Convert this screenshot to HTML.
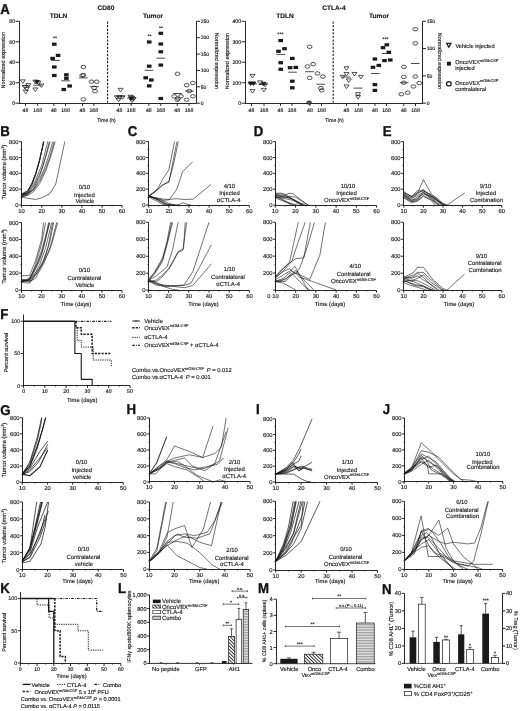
<!DOCTYPE html>
<html><head><meta charset="utf-8"><style>
html,body{margin:0;padding:0;background:#fff;}
svg{display:block;will-change:transform;}
text{font-family:"Liberation Sans", sans-serif;stroke:#1a1a1a;stroke-width:0.15px;text-rendering:geometricPrecision;}
</style></head><body>
<svg width="520" height="711" viewBox="0 0 520 711" font-family='"Liberation Sans", sans-serif'>
<rect width="520" height="711" fill="#fff"/>
<text transform="translate(0.30 13.90) scale(0.93 1)" font-size="14.2" font-weight="bold" fill="#111" style="stroke:#111;stroke-width:0.35px">A</text>
<text x="106.00" y="9.80" font-size="6.6" text-anchor="middle" font-weight="bold" fill="#1a1a1a">CD80</text>
<text x="58.50" y="18.00" font-size="6.6" text-anchor="middle" font-weight="bold" fill="#1a1a1a">TDLN</text>
<text x="153.00" y="18.30" font-size="6.6" text-anchor="middle" font-weight="bold" fill="#1a1a1a">Tumor</text>
<text x="334.00" y="9.80" font-size="6.6" text-anchor="middle" font-weight="bold" fill="#1a1a1a">CTLA-4</text>
<text x="285.00" y="18.00" font-size="6.6" text-anchor="middle" font-weight="bold" fill="#1a1a1a">TDLN</text>
<text x="379.00" y="18.30" font-size="6.6" text-anchor="middle" font-weight="bold" fill="#1a1a1a">Tumor</text>
<line x1="19.50" y1="21.30" x2="19.50" y2="103.65" stroke="#1a1a1a" stroke-width="0.95" stroke-linecap="butt"/>
<line x1="15.50" y1="103.20" x2="19.50" y2="103.20" stroke="#1a1a1a" stroke-width="0.95" stroke-linecap="butt"/>
<text x="15.10" y="105.07" font-size="5.2" text-anchor="end" fill="#1a1a1a">0</text>
<line x1="15.50" y1="82.72" x2="19.50" y2="82.72" stroke="#1a1a1a" stroke-width="0.95" stroke-linecap="butt"/>
<text x="15.10" y="84.60" font-size="5.2" text-anchor="end" fill="#1a1a1a">20</text>
<line x1="15.50" y1="62.25" x2="19.50" y2="62.25" stroke="#1a1a1a" stroke-width="0.95" stroke-linecap="butt"/>
<text x="15.10" y="64.12" font-size="5.2" text-anchor="end" fill="#1a1a1a">40</text>
<line x1="15.50" y1="41.78" x2="19.50" y2="41.78" stroke="#1a1a1a" stroke-width="0.95" stroke-linecap="butt"/>
<text x="15.10" y="43.65" font-size="5.2" text-anchor="end" fill="#1a1a1a">60</text>
<line x1="15.50" y1="21.30" x2="19.50" y2="21.30" stroke="#1a1a1a" stroke-width="0.95" stroke-linecap="butt"/>
<text x="15.10" y="23.17" font-size="5.2" text-anchor="end" fill="#1a1a1a">80</text>
<line x1="196.50" y1="21.30" x2="196.50" y2="103.65" stroke="#1a1a1a" stroke-width="0.95" stroke-linecap="butt"/>
<line x1="196.50" y1="103.20" x2="200.10" y2="103.20" stroke="#1a1a1a" stroke-width="0.95" stroke-linecap="butt"/>
<text x="200.70" y="105.00" font-size="5.0" text-anchor="start" fill="#1a1a1a">0</text>
<line x1="196.50" y1="86.82" x2="200.10" y2="86.82" stroke="#1a1a1a" stroke-width="0.95" stroke-linecap="butt"/>
<text x="200.70" y="88.62" font-size="5.0" text-anchor="start" fill="#1a1a1a">50</text>
<line x1="196.50" y1="70.44" x2="200.10" y2="70.44" stroke="#1a1a1a" stroke-width="0.95" stroke-linecap="butt"/>
<text x="200.70" y="72.24" font-size="5.0" text-anchor="start" fill="#1a1a1a">100</text>
<line x1="196.50" y1="54.06" x2="200.10" y2="54.06" stroke="#1a1a1a" stroke-width="0.95" stroke-linecap="butt"/>
<text x="200.70" y="55.86" font-size="5.0" text-anchor="start" fill="#1a1a1a">150</text>
<line x1="196.50" y1="37.68" x2="200.10" y2="37.68" stroke="#1a1a1a" stroke-width="0.95" stroke-linecap="butt"/>
<text x="200.70" y="39.48" font-size="5.0" text-anchor="start" fill="#1a1a1a">200</text>
<line x1="196.50" y1="21.30" x2="200.10" y2="21.30" stroke="#1a1a1a" stroke-width="0.95" stroke-linecap="butt"/>
<text x="200.70" y="23.10" font-size="5.0" text-anchor="start" fill="#1a1a1a">250</text>
<line x1="19.05" y1="103.50" x2="196.00" y2="103.50" stroke="#1a1a1a" stroke-width="0.95" stroke-linecap="butt"/>
<line x1="25.50" y1="103.50" x2="25.50" y2="105.90" stroke="#1a1a1a" stroke-width="0.95" stroke-linecap="butt"/>
<text x="25.50" y="112.20" font-size="5.2" text-anchor="middle" fill="#1a1a1a">48</text>
<line x1="37.70" y1="103.50" x2="37.70" y2="105.90" stroke="#1a1a1a" stroke-width="0.95" stroke-linecap="butt"/>
<text x="37.70" y="112.20" font-size="5.2" text-anchor="middle" fill="#1a1a1a">168</text>
<line x1="53.80" y1="103.50" x2="53.80" y2="105.90" stroke="#1a1a1a" stroke-width="0.95" stroke-linecap="butt"/>
<text x="53.80" y="112.20" font-size="5.2" text-anchor="middle" fill="#1a1a1a">48</text>
<line x1="65.50" y1="103.50" x2="65.50" y2="105.90" stroke="#1a1a1a" stroke-width="0.95" stroke-linecap="butt"/>
<text x="65.50" y="112.20" font-size="5.2" text-anchor="middle" fill="#1a1a1a">168</text>
<line x1="82.50" y1="103.50" x2="82.50" y2="105.90" stroke="#1a1a1a" stroke-width="0.95" stroke-linecap="butt"/>
<text x="82.50" y="112.20" font-size="5.2" text-anchor="middle" fill="#1a1a1a">48</text>
<line x1="93.80" y1="103.50" x2="93.80" y2="105.90" stroke="#1a1a1a" stroke-width="0.95" stroke-linecap="butt"/>
<text x="93.80" y="112.20" font-size="5.2" text-anchor="middle" fill="#1a1a1a">168</text>
<line x1="119.50" y1="103.50" x2="119.50" y2="105.90" stroke="#1a1a1a" stroke-width="0.95" stroke-linecap="butt"/>
<text x="119.50" y="112.20" font-size="5.2" text-anchor="middle" fill="#1a1a1a">48</text>
<line x1="131.20" y1="103.50" x2="131.20" y2="105.90" stroke="#1a1a1a" stroke-width="0.95" stroke-linecap="butt"/>
<text x="131.20" y="112.20" font-size="5.2" text-anchor="middle" fill="#1a1a1a">168</text>
<line x1="148.80" y1="103.50" x2="148.80" y2="105.90" stroke="#1a1a1a" stroke-width="0.95" stroke-linecap="butt"/>
<text x="148.80" y="112.20" font-size="5.2" text-anchor="middle" fill="#1a1a1a">48</text>
<line x1="160.80" y1="103.50" x2="160.80" y2="105.90" stroke="#1a1a1a" stroke-width="0.95" stroke-linecap="butt"/>
<text x="160.80" y="112.20" font-size="5.2" text-anchor="middle" fill="#1a1a1a">168</text>
<line x1="177.20" y1="103.50" x2="177.20" y2="105.90" stroke="#1a1a1a" stroke-width="0.95" stroke-linecap="butt"/>
<text x="177.20" y="112.20" font-size="5.2" text-anchor="middle" fill="#1a1a1a">48</text>
<line x1="189.00" y1="103.50" x2="189.00" y2="105.90" stroke="#1a1a1a" stroke-width="0.95" stroke-linecap="butt"/>
<text x="189.00" y="112.20" font-size="5.2" text-anchor="middle" fill="#1a1a1a">168</text>
<line x1="107.60" y1="21.50" x2="107.60" y2="102.50" stroke="#1a1a1a" stroke-width="1.1" stroke-dasharray="2.2,1.4" stroke-linecap="butt"/>
<text x="5.30" y="60.20" font-size="5.55" text-anchor="middle" transform="rotate(-90 5.30 60.20)" fill="#1a1a1a">Normalized expression</text>
<text x="214.60" y="61.00" font-size="5.55" text-anchor="middle" transform="rotate(90 214.60 61.00)" fill="#1a1a1a">Normalized expression</text>
<text x="106.50" y="122.30" font-size="5.0" text-anchor="middle" fill="#1a1a1a">Time (h)</text>
<line x1="245.50" y1="21.30" x2="245.50" y2="103.65" stroke="#1a1a1a" stroke-width="0.95" stroke-linecap="butt"/>
<line x1="241.50" y1="103.20" x2="245.50" y2="103.20" stroke="#1a1a1a" stroke-width="0.95" stroke-linecap="butt"/>
<text x="241.10" y="105.07" font-size="5.2" text-anchor="end" fill="#1a1a1a">0</text>
<line x1="241.50" y1="82.72" x2="245.50" y2="82.72" stroke="#1a1a1a" stroke-width="0.95" stroke-linecap="butt"/>
<text x="241.10" y="84.60" font-size="5.2" text-anchor="end" fill="#1a1a1a">100</text>
<line x1="241.50" y1="62.25" x2="245.50" y2="62.25" stroke="#1a1a1a" stroke-width="0.95" stroke-linecap="butt"/>
<text x="241.10" y="64.12" font-size="5.2" text-anchor="end" fill="#1a1a1a">200</text>
<line x1="241.50" y1="41.78" x2="245.50" y2="41.78" stroke="#1a1a1a" stroke-width="0.95" stroke-linecap="butt"/>
<text x="241.10" y="43.65" font-size="5.2" text-anchor="end" fill="#1a1a1a">300</text>
<line x1="241.50" y1="21.30" x2="245.50" y2="21.30" stroke="#1a1a1a" stroke-width="0.95" stroke-linecap="butt"/>
<text x="241.10" y="23.17" font-size="5.2" text-anchor="end" fill="#1a1a1a">400</text>
<line x1="422.50" y1="21.30" x2="422.50" y2="103.65" stroke="#1a1a1a" stroke-width="0.95" stroke-linecap="butt"/>
<line x1="422.50" y1="103.20" x2="426.10" y2="103.20" stroke="#1a1a1a" stroke-width="0.95" stroke-linecap="butt"/>
<text x="426.70" y="105.00" font-size="5.0" text-anchor="start" fill="#1a1a1a">0</text>
<line x1="422.50" y1="75.90" x2="426.10" y2="75.90" stroke="#1a1a1a" stroke-width="0.95" stroke-linecap="butt"/>
<text x="426.70" y="77.70" font-size="5.0" text-anchor="start" fill="#1a1a1a">50</text>
<line x1="422.50" y1="48.60" x2="426.10" y2="48.60" stroke="#1a1a1a" stroke-width="0.95" stroke-linecap="butt"/>
<text x="426.70" y="50.40" font-size="5.0" text-anchor="start" fill="#1a1a1a">100</text>
<line x1="422.50" y1="21.30" x2="426.10" y2="21.30" stroke="#1a1a1a" stroke-width="0.95" stroke-linecap="butt"/>
<text x="426.70" y="23.10" font-size="5.0" text-anchor="start" fill="#1a1a1a">150</text>
<line x1="245.05" y1="103.50" x2="422.50" y2="103.50" stroke="#1a1a1a" stroke-width="0.95" stroke-linecap="butt"/>
<line x1="251.50" y1="103.50" x2="251.50" y2="105.90" stroke="#1a1a1a" stroke-width="0.95" stroke-linecap="butt"/>
<text x="251.50" y="112.20" font-size="5.2" text-anchor="middle" fill="#1a1a1a">48</text>
<line x1="264.00" y1="103.50" x2="264.00" y2="105.90" stroke="#1a1a1a" stroke-width="0.95" stroke-linecap="butt"/>
<text x="264.00" y="112.20" font-size="5.2" text-anchor="middle" fill="#1a1a1a">168</text>
<line x1="280.50" y1="103.50" x2="280.50" y2="105.90" stroke="#1a1a1a" stroke-width="0.95" stroke-linecap="butt"/>
<text x="280.50" y="112.20" font-size="5.2" text-anchor="middle" fill="#1a1a1a">48</text>
<line x1="292.00" y1="103.50" x2="292.00" y2="105.90" stroke="#1a1a1a" stroke-width="0.95" stroke-linecap="butt"/>
<text x="292.00" y="112.20" font-size="5.2" text-anchor="middle" fill="#1a1a1a">168</text>
<line x1="310.00" y1="103.50" x2="310.00" y2="105.90" stroke="#1a1a1a" stroke-width="0.95" stroke-linecap="butt"/>
<text x="310.00" y="112.20" font-size="5.2" text-anchor="middle" fill="#1a1a1a">48</text>
<line x1="321.50" y1="103.50" x2="321.50" y2="105.90" stroke="#1a1a1a" stroke-width="0.95" stroke-linecap="butt"/>
<text x="321.50" y="112.20" font-size="5.2" text-anchor="middle" fill="#1a1a1a">168</text>
<line x1="346.50" y1="103.50" x2="346.50" y2="105.90" stroke="#1a1a1a" stroke-width="0.95" stroke-linecap="butt"/>
<text x="346.50" y="112.20" font-size="5.2" text-anchor="middle" fill="#1a1a1a">48</text>
<line x1="358.50" y1="103.50" x2="358.50" y2="105.90" stroke="#1a1a1a" stroke-width="0.95" stroke-linecap="butt"/>
<text x="358.50" y="112.20" font-size="5.2" text-anchor="middle" fill="#1a1a1a">168</text>
<line x1="375.00" y1="103.50" x2="375.00" y2="105.90" stroke="#1a1a1a" stroke-width="0.95" stroke-linecap="butt"/>
<text x="375.00" y="112.20" font-size="5.2" text-anchor="middle" fill="#1a1a1a">48</text>
<line x1="386.50" y1="103.50" x2="386.50" y2="105.90" stroke="#1a1a1a" stroke-width="0.95" stroke-linecap="butt"/>
<text x="386.50" y="112.20" font-size="5.2" text-anchor="middle" fill="#1a1a1a">168</text>
<line x1="403.80" y1="103.50" x2="403.80" y2="105.90" stroke="#1a1a1a" stroke-width="0.95" stroke-linecap="butt"/>
<text x="403.80" y="112.20" font-size="5.2" text-anchor="middle" fill="#1a1a1a">48</text>
<line x1="415.50" y1="103.50" x2="415.50" y2="105.90" stroke="#1a1a1a" stroke-width="0.95" stroke-linecap="butt"/>
<text x="415.50" y="112.20" font-size="5.2" text-anchor="middle" fill="#1a1a1a">168</text>
<line x1="333.20" y1="21.50" x2="333.20" y2="102.50" stroke="#1a1a1a" stroke-width="1.1" stroke-dasharray="2.2,1.4" stroke-linecap="butt"/>
<text x="229.20" y="61.00" font-size="5.55" text-anchor="middle" transform="rotate(-90 229.20 61.00)" fill="#1a1a1a">Normalized expression</text>
<text x="437.80" y="61.00" font-size="5.55" text-anchor="middle" transform="rotate(90 437.80 61.00)" fill="#1a1a1a">Normalized expression</text>
<text x="334.50" y="122.30" font-size="5.0" text-anchor="middle" fill="#1a1a1a">Time (h)</text>
<polygon points="20.30,79.85 25.30,79.85 22.80,83.40" fill="none" stroke="#1a1a1a" stroke-width="0.75" stroke-linejoin="miter"/>
<polygon points="25.90,83.65 30.90,83.65 28.40,87.20" fill="none" stroke="#1a1a1a" stroke-width="0.75" stroke-linejoin="miter"/>
<polygon points="22.40,85.35 27.40,85.35 24.90,88.90" fill="none" stroke="#1a1a1a" stroke-width="0.75" stroke-linejoin="miter"/>
<polygon points="24.20,87.45 29.20,87.45 26.70,91.00" fill="none" stroke="#1a1a1a" stroke-width="0.75" stroke-linejoin="miter"/>
<polygon points="23.30,90.15 28.30,90.15 25.80,93.70" fill="none" stroke="#1a1a1a" stroke-width="0.75" stroke-linejoin="miter"/>
<line x1="21.70" y1="85.80" x2="30.30" y2="85.80" stroke="#1a1a1a" stroke-width="0.8" stroke-linecap="butt"/>
<polygon points="32.80,80.15 37.80,80.15 35.30,83.70" fill="none" stroke="#1a1a1a" stroke-width="0.75" stroke-linejoin="miter"/>
<polygon points="35.90,81.05 40.90,81.05 38.40,84.60" fill="none" stroke="#1a1a1a" stroke-width="0.75" stroke-linejoin="miter"/>
<polygon points="38.90,83.95 43.90,83.95 41.40,87.50" fill="none" stroke="#1a1a1a" stroke-width="0.75" stroke-linejoin="miter"/>
<polygon points="32.80,87.95 37.80,87.95 35.30,91.50" fill="none" stroke="#1a1a1a" stroke-width="0.75" stroke-linejoin="miter"/>
<polygon points="34.50,80.45 39.50,80.45 37.00,84.00" fill="#1a1a1a" stroke="#1a1a1a" stroke-width="0.75" stroke-linejoin="miter"/>
<line x1="33.20" y1="85.20" x2="41.80" y2="85.20" stroke="#1a1a1a" stroke-width="0.8" stroke-linecap="butt"/>
<rect x="52.00" y="42.60" width="4.60" height="3.20" fill="#1a1a1a"/>
<rect x="55.80" y="53.80" width="4.60" height="3.20" fill="#1a1a1a"/>
<rect x="50.30" y="56.80" width="4.60" height="3.20" fill="#1a1a1a"/>
<rect x="52.00" y="65.40" width="4.60" height="3.20" fill="#1a1a1a"/>
<rect x="52.00" y="73.90" width="4.60" height="3.20" fill="#1a1a1a"/>
<line x1="51.20" y1="60.40" x2="59.80" y2="60.40" stroke="#1a1a1a" stroke-width="0.8" stroke-linecap="butt"/>
<text x="55.00" y="40.10" font-size="5.2" text-anchor="middle" fill="#1a1a1a">**</text>
<rect x="64.10" y="73.20" width="4.60" height="3.20" fill="#1a1a1a"/>
<rect x="64.10" y="76.70" width="4.60" height="3.20" fill="#1a1a1a"/>
<rect x="67.30" y="84.40" width="4.60" height="3.20" fill="#1a1a1a"/>
<rect x="61.50" y="87.90" width="4.60" height="3.20" fill="#1a1a1a"/>
<line x1="61.30" y1="80.80" x2="69.90" y2="80.80" stroke="#1a1a1a" stroke-width="0.8" stroke-linecap="butt"/>
<ellipse cx="83.40" cy="67.00" rx="2.45" ry="1.7" fill="none" stroke="#1a1a1a" stroke-width="0.75"/>
<ellipse cx="83.40" cy="75.10" rx="2.45" ry="1.7" fill="none" stroke="#1a1a1a" stroke-width="0.75"/>
<ellipse cx="82.20" cy="75.40" rx="2.45" ry="1.7" fill="none" stroke="#1a1a1a" stroke-width="0.75"/>
<ellipse cx="83.40" cy="99.40" rx="2.45" ry="1.7" fill="none" stroke="#1a1a1a" stroke-width="0.75"/>
<line x1="79.00" y1="77.90" x2="87.60" y2="77.90" stroke="#1a1a1a" stroke-width="0.8" stroke-linecap="butt"/>
<ellipse cx="91.50" cy="81.70" rx="2.45" ry="1.7" fill="none" stroke="#1a1a1a" stroke-width="0.75"/>
<ellipse cx="96.70" cy="81.70" rx="2.45" ry="1.7" fill="none" stroke="#1a1a1a" stroke-width="0.75"/>
<ellipse cx="94.10" cy="87.80" rx="2.45" ry="1.7" fill="none" stroke="#1a1a1a" stroke-width="0.75"/>
<ellipse cx="95.00" cy="91.20" rx="2.45" ry="1.7" fill="none" stroke="#1a1a1a" stroke-width="0.75"/>
<line x1="90.20" y1="86.60" x2="98.80" y2="86.60" stroke="#1a1a1a" stroke-width="0.8" stroke-linecap="butt"/>
<polygon points="118.00,88.35 123.00,88.35 120.50,91.90" fill="none" stroke="#1a1a1a" stroke-width="0.75" stroke-linejoin="miter"/>
<polygon points="114.20,95.75 119.20,95.75 116.70,99.30" fill="none" stroke="#1a1a1a" stroke-width="0.75" stroke-linejoin="miter"/>
<polygon points="117.30,95.75 122.30,95.75 119.80,99.30" fill="none" stroke="#1a1a1a" stroke-width="0.75" stroke-linejoin="miter"/>
<polygon points="120.20,95.75 125.20,95.75 122.70,99.30" fill="none" stroke="#1a1a1a" stroke-width="0.75" stroke-linejoin="miter"/>
<polygon points="116.20,98.15 121.20,98.15 118.70,101.70" fill="none" stroke="#1a1a1a" stroke-width="0.75" stroke-linejoin="miter"/>
<line x1="115.80" y1="96.30" x2="124.40" y2="96.30" stroke="#1a1a1a" stroke-width="0.8" stroke-linecap="butt"/>
<polygon points="128.00,95.25 133.00,95.25 130.50,98.80" fill="none" stroke="#1a1a1a" stroke-width="0.75" stroke-linejoin="miter"/>
<polygon points="129.70,96.15 134.70,96.15 132.20,99.70" fill="none" stroke="#1a1a1a" stroke-width="0.75" stroke-linejoin="miter"/>
<polygon points="129.40,99.05 134.40,99.05 131.90,102.60" fill="none" stroke="#1a1a1a" stroke-width="0.75" stroke-linejoin="miter"/>
<polygon points="131.10,97.45 136.10,97.45 133.60,101.00" fill="none" stroke="#1a1a1a" stroke-width="0.75" stroke-linejoin="miter"/>
<polygon points="128.70,96.95 133.70,96.95 131.20,100.50" fill="#1a1a1a" stroke="#1a1a1a" stroke-width="0.75" stroke-linejoin="miter"/>
<line x1="127.10" y1="98.00" x2="135.70" y2="98.00" stroke="#1a1a1a" stroke-width="0.8" stroke-linecap="butt"/>
<rect x="146.90" y="40.40" width="4.60" height="3.20" fill="#1a1a1a"/>
<rect x="146.90" y="64.60" width="4.60" height="3.20" fill="#1a1a1a"/>
<rect x="143.40" y="76.20" width="4.60" height="3.20" fill="#1a1a1a"/>
<rect x="149.00" y="78.40" width="4.60" height="3.20" fill="#1a1a1a"/>
<rect x="146.90" y="84.30" width="4.60" height="3.20" fill="#1a1a1a"/>
<line x1="144.70" y1="70.30" x2="153.30" y2="70.30" stroke="#1a1a1a" stroke-width="0.8" stroke-linecap="butt"/>
<text x="149.60" y="38.40" font-size="5.2" text-anchor="middle" fill="#1a1a1a">**</text>
<rect x="158.50" y="31.70" width="4.60" height="3.20" fill="#1a1a1a"/>
<rect x="158.50" y="42.40" width="4.60" height="3.20" fill="#1a1a1a"/>
<rect x="158.50" y="50.20" width="4.60" height="3.20" fill="#1a1a1a"/>
<rect x="158.50" y="63.50" width="4.60" height="3.20" fill="#1a1a1a"/>
<rect x="158.50" y="96.90" width="4.60" height="3.20" fill="#1a1a1a"/>
<line x1="156.40" y1="58.20" x2="165.00" y2="58.20" stroke="#1a1a1a" stroke-width="0.8" stroke-linecap="butt"/>
<text x="161.00" y="30.10" font-size="5.2" text-anchor="middle" fill="#1a1a1a">**</text>
<ellipse cx="177.50" cy="73.80" rx="2.45" ry="1.7" fill="none" stroke="#1a1a1a" stroke-width="0.75"/>
<ellipse cx="174.10" cy="96.30" rx="2.45" ry="1.7" fill="none" stroke="#1a1a1a" stroke-width="0.75"/>
<ellipse cx="178.10" cy="98.50" rx="2.45" ry="1.7" fill="none" stroke="#1a1a1a" stroke-width="0.75"/>
<ellipse cx="181.00" cy="96.30" rx="2.45" ry="1.7" fill="none" stroke="#1a1a1a" stroke-width="0.75"/>
<ellipse cx="177.20" cy="99.70" rx="2.45" ry="1.7" fill="none" stroke="#1a1a1a" stroke-width="0.75"/>
<line x1="173.30" y1="93.50" x2="181.90" y2="93.50" stroke="#1a1a1a" stroke-width="0.8" stroke-linecap="butt"/>
<ellipse cx="186.70" cy="85.20" rx="2.45" ry="1.7" fill="none" stroke="#1a1a1a" stroke-width="0.75"/>
<ellipse cx="192.80" cy="83.00" rx="2.45" ry="1.7" fill="none" stroke="#1a1a1a" stroke-width="0.75"/>
<ellipse cx="189.30" cy="91.10" rx="2.45" ry="1.7" fill="none" stroke="#1a1a1a" stroke-width="0.75"/>
<ellipse cx="192.80" cy="96.30" rx="2.45" ry="1.7" fill="none" stroke="#1a1a1a" stroke-width="0.75"/>
<ellipse cx="186.70" cy="99.70" rx="2.45" ry="1.7" fill="none" stroke="#1a1a1a" stroke-width="0.75"/>
<line x1="185.20" y1="91.10" x2="193.80" y2="91.10" stroke="#1a1a1a" stroke-width="0.8" stroke-linecap="butt"/>
<polygon points="250.00,74.45 255.00,74.45 252.50,78.00" fill="none" stroke="#1a1a1a" stroke-width="0.75" stroke-linejoin="miter"/>
<polygon points="250.00,89.55 255.00,89.55 252.50,93.10" fill="none" stroke="#1a1a1a" stroke-width="0.75" stroke-linejoin="miter"/>
<polygon points="248.10,81.95 253.10,81.95 250.60,85.50" fill="#1a1a1a" stroke="#1a1a1a" stroke-width="0.75" stroke-linejoin="miter"/>
<polygon points="250.90,81.95 255.90,81.95 253.40,85.50" fill="#1a1a1a" stroke="#1a1a1a" stroke-width="0.75" stroke-linejoin="miter"/>
<line x1="248.50" y1="83.80" x2="257.10" y2="83.80" stroke="#1a1a1a" stroke-width="0.8" stroke-linecap="butt"/>
<polygon points="257.50,80.85 262.50,80.85 260.00,84.40" fill="none" stroke="#1a1a1a" stroke-width="0.75" stroke-linejoin="miter"/>
<polygon points="262.60,83.15 267.60,83.15 265.10,86.70" fill="none" stroke="#1a1a1a" stroke-width="0.75" stroke-linejoin="miter"/>
<polygon points="261.30,88.35 266.30,88.35 263.80,91.90" fill="none" stroke="#1a1a1a" stroke-width="0.75" stroke-linejoin="miter"/>
<polygon points="260.90,82.25 265.90,82.25 263.40,85.80" fill="#1a1a1a" stroke="#1a1a1a" stroke-width="0.75" stroke-linejoin="miter"/>
<line x1="258.70" y1="84.50" x2="267.30" y2="84.50" stroke="#1a1a1a" stroke-width="0.8" stroke-linecap="butt"/>
<rect x="278.40" y="39.00" width="4.60" height="3.20" fill="#1a1a1a"/>
<rect x="276.20" y="49.70" width="4.60" height="3.20" fill="#1a1a1a"/>
<rect x="282.20" y="47.10" width="4.60" height="3.20" fill="#1a1a1a"/>
<rect x="278.40" y="61.10" width="4.60" height="3.20" fill="#1a1a1a"/>
<rect x="278.40" y="67.70" width="4.60" height="3.20" fill="#1a1a1a"/>
<line x1="276.60" y1="54.40" x2="285.20" y2="54.40" stroke="#1a1a1a" stroke-width="0.8" stroke-linecap="butt"/>
<text x="280.40" y="36.40" font-size="5.2" text-anchor="middle" fill="#1a1a1a">***</text>
<rect x="290.00" y="56.80" width="4.60" height="3.20" fill="#1a1a1a"/>
<rect x="287.80" y="66.10" width="4.60" height="3.20" fill="#1a1a1a"/>
<rect x="293.50" y="65.80" width="4.60" height="3.20" fill="#1a1a1a"/>
<rect x="290.00" y="79.60" width="4.60" height="3.20" fill="#1a1a1a"/>
<rect x="290.00" y="86.20" width="4.60" height="3.20" fill="#1a1a1a"/>
<line x1="288.20" y1="72.20" x2="296.80" y2="72.20" stroke="#1a1a1a" stroke-width="0.8" stroke-linecap="butt"/>
<ellipse cx="309.60" cy="46.80" rx="2.45" ry="1.7" fill="none" stroke="#1a1a1a" stroke-width="0.75"/>
<ellipse cx="307.40" cy="66.50" rx="2.45" ry="1.7" fill="none" stroke="#1a1a1a" stroke-width="0.75"/>
<ellipse cx="313.10" cy="64.10" rx="2.45" ry="1.7" fill="none" stroke="#1a1a1a" stroke-width="0.75"/>
<ellipse cx="309.60" cy="77.90" rx="2.45" ry="1.7" fill="none" stroke="#1a1a1a" stroke-width="0.75"/>
<ellipse cx="309.10" cy="102.60" rx="2.45" ry="1.7" fill="#555" stroke="#1a1a1a" stroke-width="0.75"/>
<line x1="305.30" y1="71.70" x2="313.90" y2="71.70" stroke="#1a1a1a" stroke-width="0.8" stroke-linecap="butt"/>
<ellipse cx="317.40" cy="73.40" rx="2.45" ry="1.7" fill="none" stroke="#1a1a1a" stroke-width="0.75"/>
<ellipse cx="322.90" cy="76.60" rx="2.45" ry="1.7" fill="none" stroke="#1a1a1a" stroke-width="0.75"/>
<ellipse cx="320.90" cy="88.10" rx="2.45" ry="1.7" fill="none" stroke="#1a1a1a" stroke-width="0.75"/>
<ellipse cx="321.70" cy="90.40" rx="2.45" ry="1.7" fill="none" stroke="#1a1a1a" stroke-width="0.75"/>
<line x1="316.50" y1="84.20" x2="325.10" y2="84.20" stroke="#1a1a1a" stroke-width="0.8" stroke-linecap="butt"/>
<polygon points="344.00,66.75 349.00,66.75 346.50,70.30" fill="none" stroke="#1a1a1a" stroke-width="0.75" stroke-linejoin="miter"/>
<polygon points="344.00,72.45 349.00,72.45 346.50,76.00" fill="none" stroke="#1a1a1a" stroke-width="0.75" stroke-linejoin="miter"/>
<polygon points="340.10,75.35 345.10,75.35 342.60,78.90" fill="none" stroke="#1a1a1a" stroke-width="0.75" stroke-linejoin="miter"/>
<polygon points="346.30,78.85 351.30,78.85 348.80,82.40" fill="none" stroke="#1a1a1a" stroke-width="0.75" stroke-linejoin="miter"/>
<polygon points="344.00,84.95 349.00,84.95 346.50,88.50" fill="none" stroke="#1a1a1a" stroke-width="0.75" stroke-linejoin="miter"/>
<line x1="342.00" y1="77.00" x2="350.60" y2="77.00" stroke="#1a1a1a" stroke-width="0.8" stroke-linecap="butt"/>
<polygon points="352.00,72.45 357.00,72.45 354.50,76.00" fill="none" stroke="#1a1a1a" stroke-width="0.75" stroke-linejoin="miter"/>
<polygon points="358.40,75.35 363.40,75.35 360.90,78.90" fill="none" stroke="#1a1a1a" stroke-width="0.75" stroke-linejoin="miter"/>
<polygon points="355.50,92.65 360.50,92.65 358.00,96.20" fill="none" stroke="#1a1a1a" stroke-width="0.75" stroke-linejoin="miter"/>
<polygon points="355.50,95.55 360.50,95.55 358.00,99.10" fill="none" stroke="#1a1a1a" stroke-width="0.75" stroke-linejoin="miter"/>
<line x1="353.70" y1="88.10" x2="362.30" y2="88.10" stroke="#1a1a1a" stroke-width="0.8" stroke-linecap="butt"/>
<rect x="372.60" y="57.40" width="4.60" height="3.20" fill="#1a1a1a"/>
<rect x="370.70" y="65.70" width="4.60" height="3.20" fill="#1a1a1a"/>
<rect x="376.50" y="63.80" width="4.60" height="3.20" fill="#1a1a1a"/>
<rect x="372.60" y="83.00" width="4.60" height="3.20" fill="#1a1a1a"/>
<rect x="372.60" y="88.80" width="4.60" height="3.20" fill="#1a1a1a"/>
<line x1="371.00" y1="73.50" x2="379.60" y2="73.50" stroke="#1a1a1a" stroke-width="0.8" stroke-linecap="butt"/>
<rect x="380.70" y="46.10" width="4.60" height="3.20" fill="#1a1a1a"/>
<rect x="384.50" y="43.20" width="4.60" height="3.20" fill="#1a1a1a"/>
<rect x="386.50" y="50.70" width="4.60" height="3.20" fill="#1a1a1a"/>
<rect x="382.20" y="59.00" width="4.60" height="3.20" fill="#1a1a1a"/>
<rect x="388.00" y="58.40" width="4.60" height="3.20" fill="#1a1a1a"/>
<line x1="382.00" y1="53.50" x2="390.60" y2="53.50" stroke="#1a1a1a" stroke-width="0.8" stroke-linecap="butt"/>
<text x="385.40" y="40.90" font-size="5.2" text-anchor="middle" fill="#1a1a1a">***</text>
<ellipse cx="403.80" cy="66.90" rx="2.45" ry="1.7" fill="none" stroke="#1a1a1a" stroke-width="0.75"/>
<ellipse cx="403.80" cy="76.90" rx="2.45" ry="1.7" fill="none" stroke="#1a1a1a" stroke-width="0.75"/>
<ellipse cx="403.80" cy="82.70" rx="2.45" ry="1.7" fill="none" stroke="#1a1a1a" stroke-width="0.75"/>
<ellipse cx="401.30" cy="94.20" rx="2.45" ry="1.7" fill="none" stroke="#1a1a1a" stroke-width="0.75"/>
<ellipse cx="407.60" cy="92.70" rx="2.45" ry="1.7" fill="none" stroke="#1a1a1a" stroke-width="0.75"/>
<line x1="399.90" y1="82.70" x2="408.50" y2="82.70" stroke="#1a1a1a" stroke-width="0.8" stroke-linecap="butt"/>
<ellipse cx="415.30" cy="29.20" rx="2.45" ry="1.7" fill="none" stroke="#1a1a1a" stroke-width="0.75"/>
<ellipse cx="415.30" cy="43.30" rx="2.45" ry="1.7" fill="none" stroke="#1a1a1a" stroke-width="0.75"/>
<ellipse cx="415.30" cy="76.50" rx="2.45" ry="1.7" fill="none" stroke="#1a1a1a" stroke-width="0.75"/>
<ellipse cx="419.20" cy="83.10" rx="2.45" ry="1.7" fill="none" stroke="#1a1a1a" stroke-width="0.75"/>
<ellipse cx="413.40" cy="86.50" rx="2.45" ry="1.7" fill="none" stroke="#1a1a1a" stroke-width="0.75"/>
<line x1="410.90" y1="63.50" x2="419.50" y2="63.50" stroke="#1a1a1a" stroke-width="0.8" stroke-linecap="butt"/>
<polygon points="446.70,43.30 450.90,43.30 448.80,47.20" fill="none" stroke="#1a1a1a" stroke-width="1.3" stroke-linejoin="miter"/>
<text x="455.40" y="47.90" font-size="5.65" text-anchor="start" fill="#1a1a1a">Vehicle injected</text>
<rect x="446.90" y="61.70" width="4.00" height="3.90" fill="#1a1a1a"/>
<text x="455.20" y="64.30" font-size="5.65" text-anchor="start" fill="#1a1a1a">OncoVEX<tspan font-size="3.84" dy="-2.26">mGM-CSF</tspan></text>
<text x="455.20" y="70.40" font-size="5.65" text-anchor="start" fill="#1a1a1a">injected</text>
<ellipse cx="448.85" cy="83.75" rx="2.35" ry="2.2" fill="none" stroke="#1a1a1a" stroke-width="1.25"/>
<text x="455.20" y="84.60" font-size="5.65" text-anchor="start" fill="#1a1a1a">OncoVEX<tspan font-size="3.84" dy="-2.26">mGM-CSF</tspan></text>
<text x="455.20" y="90.60" font-size="5.65" text-anchor="start" fill="#1a1a1a">contralateral</text>
<text transform="translate(0.30 135.90) scale(0.93 1)" font-size="14.2" font-weight="bold" fill="#111" style="stroke:#111;stroke-width:0.35px">B</text>
<text transform="translate(127.80 135.90) scale(0.93 1)" font-size="14.2" font-weight="bold" fill="#111" style="stroke:#111;stroke-width:0.35px">C</text>
<text transform="translate(253.80 135.90) scale(0.93 1)" font-size="14.2" font-weight="bold" fill="#111" style="stroke:#111;stroke-width:0.35px">D</text>
<text transform="translate(382.80 135.90) scale(0.93 1)" font-size="14.2" font-weight="bold" fill="#111" style="stroke:#111;stroke-width:0.35px">E</text>
<text transform="translate(0.30 318.90) scale(0.93 1)" font-size="14.2" font-weight="bold" fill="#111" style="stroke:#111;stroke-width:0.35px">F</text>
<line x1="21.50" y1="141.60" x2="21.50" y2="205.45" stroke="#1a1a1a" stroke-width="0.95" stroke-linecap="butt"/>
<line x1="19.10" y1="205.00" x2="21.50" y2="205.00" stroke="#1a1a1a" stroke-width="0.95" stroke-linecap="butt"/>
<text x="18.60" y="207.09" font-size="5.8" text-anchor="end" fill="#1a1a1a">0</text>
<line x1="19.10" y1="189.15" x2="21.50" y2="189.15" stroke="#1a1a1a" stroke-width="0.95" stroke-linecap="butt"/>
<text x="18.60" y="191.24" font-size="5.8" text-anchor="end" fill="#1a1a1a">200</text>
<line x1="19.10" y1="173.30" x2="21.50" y2="173.30" stroke="#1a1a1a" stroke-width="0.95" stroke-linecap="butt"/>
<text x="18.60" y="175.39" font-size="5.8" text-anchor="end" fill="#1a1a1a">400</text>
<line x1="19.10" y1="157.45" x2="21.50" y2="157.45" stroke="#1a1a1a" stroke-width="0.95" stroke-linecap="butt"/>
<text x="18.60" y="159.54" font-size="5.8" text-anchor="end" fill="#1a1a1a">600</text>
<line x1="19.10" y1="141.60" x2="21.50" y2="141.60" stroke="#1a1a1a" stroke-width="0.95" stroke-linecap="butt"/>
<text x="18.60" y="143.69" font-size="5.8" text-anchor="end" fill="#1a1a1a">800</text>
<line x1="20.18" y1="197.07" x2="21.50" y2="197.07" stroke="#1a1a1a" stroke-width="0.5" stroke-linecap="butt"/>
<line x1="20.18" y1="181.22" x2="21.50" y2="181.22" stroke="#1a1a1a" stroke-width="0.5" stroke-linecap="butt"/>
<line x1="20.18" y1="165.38" x2="21.50" y2="165.38" stroke="#1a1a1a" stroke-width="0.5" stroke-linecap="butt"/>
<line x1="20.18" y1="149.53" x2="21.50" y2="149.53" stroke="#1a1a1a" stroke-width="0.5" stroke-linecap="butt"/>
<line x1="21.05" y1="205.50" x2="122.10" y2="205.50" stroke="#1a1a1a" stroke-width="0.95" stroke-linecap="butt"/>
<line x1="21.60" y1="205.50" x2="21.60" y2="207.70" stroke="#1a1a1a" stroke-width="0.95" stroke-linecap="butt"/>
<text x="21.60" y="213.00" font-size="5.8" text-anchor="middle" fill="#1a1a1a">10</text>
<line x1="41.70" y1="205.50" x2="41.70" y2="207.70" stroke="#1a1a1a" stroke-width="0.95" stroke-linecap="butt"/>
<text x="41.70" y="213.00" font-size="5.8" text-anchor="middle" fill="#1a1a1a">20</text>
<line x1="61.80" y1="205.50" x2="61.80" y2="207.70" stroke="#1a1a1a" stroke-width="0.95" stroke-linecap="butt"/>
<text x="61.80" y="213.00" font-size="5.8" text-anchor="middle" fill="#1a1a1a">30</text>
<line x1="81.90" y1="205.50" x2="81.90" y2="207.70" stroke="#1a1a1a" stroke-width="0.95" stroke-linecap="butt"/>
<text x="81.90" y="213.00" font-size="5.8" text-anchor="middle" fill="#1a1a1a">40</text>
<line x1="102.00" y1="205.50" x2="102.00" y2="207.70" stroke="#1a1a1a" stroke-width="0.95" stroke-linecap="butt"/>
<text x="102.00" y="213.00" font-size="5.8" text-anchor="middle" fill="#1a1a1a">50</text>
<line x1="122.10" y1="205.50" x2="122.10" y2="207.70" stroke="#1a1a1a" stroke-width="0.95" stroke-linecap="butt"/>
<text x="122.10" y="213.00" font-size="5.8" text-anchor="middle" fill="#1a1a1a">60</text>
<line x1="31.65" y1="205.50" x2="31.65" y2="206.71" stroke="#1a1a1a" stroke-width="0.5" stroke-linecap="butt"/>
<line x1="51.75" y1="205.50" x2="51.75" y2="206.71" stroke="#1a1a1a" stroke-width="0.5" stroke-linecap="butt"/>
<line x1="71.85" y1="205.50" x2="71.85" y2="206.71" stroke="#1a1a1a" stroke-width="0.5" stroke-linecap="butt"/>
<line x1="91.95" y1="205.50" x2="91.95" y2="206.71" stroke="#1a1a1a" stroke-width="0.5" stroke-linecap="butt"/>
<line x1="112.05" y1="205.50" x2="112.05" y2="206.71" stroke="#1a1a1a" stroke-width="0.5" stroke-linecap="butt"/>
<line x1="21.50" y1="222.50" x2="21.50" y2="290.45" stroke="#1a1a1a" stroke-width="0.95" stroke-linecap="butt"/>
<line x1="19.10" y1="290.00" x2="21.50" y2="290.00" stroke="#1a1a1a" stroke-width="0.95" stroke-linecap="butt"/>
<text x="18.60" y="292.09" font-size="5.8" text-anchor="end" fill="#1a1a1a">0</text>
<line x1="19.10" y1="273.12" x2="21.50" y2="273.12" stroke="#1a1a1a" stroke-width="0.95" stroke-linecap="butt"/>
<text x="18.60" y="275.21" font-size="5.8" text-anchor="end" fill="#1a1a1a">200</text>
<line x1="19.10" y1="256.25" x2="21.50" y2="256.25" stroke="#1a1a1a" stroke-width="0.95" stroke-linecap="butt"/>
<text x="18.60" y="258.34" font-size="5.8" text-anchor="end" fill="#1a1a1a">400</text>
<line x1="19.10" y1="239.38" x2="21.50" y2="239.38" stroke="#1a1a1a" stroke-width="0.95" stroke-linecap="butt"/>
<text x="18.60" y="241.46" font-size="5.8" text-anchor="end" fill="#1a1a1a">600</text>
<line x1="19.10" y1="222.50" x2="21.50" y2="222.50" stroke="#1a1a1a" stroke-width="0.95" stroke-linecap="butt"/>
<text x="18.60" y="224.59" font-size="5.8" text-anchor="end" fill="#1a1a1a">800</text>
<line x1="20.18" y1="281.56" x2="21.50" y2="281.56" stroke="#1a1a1a" stroke-width="0.5" stroke-linecap="butt"/>
<line x1="20.18" y1="264.69" x2="21.50" y2="264.69" stroke="#1a1a1a" stroke-width="0.5" stroke-linecap="butt"/>
<line x1="20.18" y1="247.81" x2="21.50" y2="247.81" stroke="#1a1a1a" stroke-width="0.5" stroke-linecap="butt"/>
<line x1="20.18" y1="230.94" x2="21.50" y2="230.94" stroke="#1a1a1a" stroke-width="0.5" stroke-linecap="butt"/>
<line x1="21.05" y1="290.50" x2="122.00" y2="290.50" stroke="#1a1a1a" stroke-width="0.95" stroke-linecap="butt"/>
<line x1="21.50" y1="290.50" x2="21.50" y2="292.70" stroke="#1a1a1a" stroke-width="0.95" stroke-linecap="butt"/>
<text x="21.50" y="298.00" font-size="5.8" text-anchor="middle" fill="#1a1a1a">10</text>
<line x1="41.60" y1="290.50" x2="41.60" y2="292.70" stroke="#1a1a1a" stroke-width="0.95" stroke-linecap="butt"/>
<text x="41.60" y="298.00" font-size="5.8" text-anchor="middle" fill="#1a1a1a">20</text>
<line x1="61.70" y1="290.50" x2="61.70" y2="292.70" stroke="#1a1a1a" stroke-width="0.95" stroke-linecap="butt"/>
<text x="61.70" y="298.00" font-size="5.8" text-anchor="middle" fill="#1a1a1a">30</text>
<line x1="81.80" y1="290.50" x2="81.80" y2="292.70" stroke="#1a1a1a" stroke-width="0.95" stroke-linecap="butt"/>
<text x="81.80" y="298.00" font-size="5.8" text-anchor="middle" fill="#1a1a1a">40</text>
<line x1="101.90" y1="290.50" x2="101.90" y2="292.70" stroke="#1a1a1a" stroke-width="0.95" stroke-linecap="butt"/>
<text x="101.90" y="298.00" font-size="5.8" text-anchor="middle" fill="#1a1a1a">50</text>
<line x1="122.00" y1="290.50" x2="122.00" y2="292.70" stroke="#1a1a1a" stroke-width="0.95" stroke-linecap="butt"/>
<text x="122.00" y="298.00" font-size="5.8" text-anchor="middle" fill="#1a1a1a">60</text>
<line x1="31.55" y1="290.50" x2="31.55" y2="291.71" stroke="#1a1a1a" stroke-width="0.5" stroke-linecap="butt"/>
<line x1="51.65" y1="290.50" x2="51.65" y2="291.71" stroke="#1a1a1a" stroke-width="0.5" stroke-linecap="butt"/>
<line x1="71.75" y1="290.50" x2="71.75" y2="291.71" stroke="#1a1a1a" stroke-width="0.5" stroke-linecap="butt"/>
<line x1="91.85" y1="290.50" x2="91.85" y2="291.71" stroke="#1a1a1a" stroke-width="0.5" stroke-linecap="butt"/>
<line x1="111.95" y1="290.50" x2="111.95" y2="291.71" stroke="#1a1a1a" stroke-width="0.5" stroke-linecap="butt"/>
<polyline points="21.60,194.70 27.63,191.53 31.65,184.40 35.67,174.09 39.69,160.62 43.71,141.60" fill="none" stroke="#1a1a1a" stroke-width="0.8" stroke-linejoin="round"/>
<polyline points="21.60,195.49 27.63,192.32 31.65,185.19 35.67,174.88 39.69,159.83 43.51,141.60" fill="none" stroke="#1a1a1a" stroke-width="0.8" stroke-linejoin="round"/>
<polyline points="21.60,193.91 27.63,190.74 31.65,183.60 35.67,173.30 39.69,159.03 43.91,141.60" fill="none" stroke="#1a1a1a" stroke-width="0.8" stroke-linejoin="round"/>
<polyline points="21.60,196.28 27.63,193.11 31.65,187.56 35.67,179.64 41.70,165.38 46.72,145.56 47.73,141.60" fill="none" stroke="#1a1a1a" stroke-width="0.62" stroke-linejoin="round"/>
<polyline points="21.60,195.09 27.63,193.91 33.66,185.98 37.68,178.06 41.70,169.34 45.72,155.87 49.34,141.60" fill="none" stroke="#1a1a1a" stroke-width="0.62" stroke-linejoin="round"/>
<polyline points="21.60,197.07 27.63,194.70 33.66,188.36 39.69,175.68 43.71,163.79 50.14,141.60" fill="none" stroke="#1a1a1a" stroke-width="0.62" stroke-linejoin="round"/>
<polyline points="21.60,195.89 27.63,194.70 33.66,189.15 39.69,178.85 43.71,170.13 47.73,159.03 52.75,141.60" fill="none" stroke="#1a1a1a" stroke-width="0.62" stroke-linejoin="round"/>
<polyline points="21.60,193.91 27.63,193.11 33.66,189.94 39.69,181.22 45.72,168.55 49.74,157.45 54.16,141.60" fill="none" stroke="#1a1a1a" stroke-width="0.62" stroke-linejoin="round"/>
<polyline points="21.60,196.68 27.63,195.49 33.66,191.53 39.69,183.60 45.72,170.92 50.74,156.66 55.17,141.60" fill="none" stroke="#1a1a1a" stroke-width="0.62" stroke-linejoin="round"/>
<polyline points="21.60,197.07 27.63,198.26 35.67,199.45 41.70,197.87 49.74,193.91 55.77,184.00 64.81,141.60" fill="none" stroke="#1a1a1a" stroke-width="0.62" stroke-linejoin="round"/>
<polyline points="21.50,275.66 29.54,275.66 35.57,260.47 41.60,239.38 43.61,222.50" fill="none" stroke="#1a1a1a" stroke-width="0.62" stroke-linejoin="round"/>
<polyline points="21.50,280.72 29.54,279.88 35.57,264.69 41.60,243.59 45.62,222.50" fill="none" stroke="#1a1a1a" stroke-width="0.62" stroke-linejoin="round"/>
<polyline points="21.50,279.88 29.54,279.03 35.57,268.06 41.60,253.72 45.62,237.69 48.63,222.50" fill="none" stroke="#1a1a1a" stroke-width="0.62" stroke-linejoin="round"/>
<polyline points="21.50,281.56 27.53,279.88 31.55,274.81 37.58,262.16 41.60,250.34 46.62,232.62 49.64,222.50" fill="none" stroke="#1a1a1a" stroke-width="0.62" stroke-linejoin="round"/>
<polyline points="21.50,280.72 29.54,280.72 33.56,273.12 39.59,260.47 43.61,247.81 49.64,222.50" fill="none" stroke="#1a1a1a" stroke-width="0.62" stroke-linejoin="round"/>
<polyline points="21.50,281.98 29.54,283.25 33.56,276.50 39.59,264.69 45.62,247.81 51.65,222.50" fill="none" stroke="#1a1a1a" stroke-width="0.62" stroke-linejoin="round"/>
<polyline points="21.50,279.45 29.54,281.56 35.57,278.19 41.60,267.22 47.63,249.50 52.66,222.50" fill="none" stroke="#1a1a1a" stroke-width="0.62" stroke-linejoin="round"/>
<polyline points="21.50,281.56 31.55,280.72 37.58,272.28 43.61,259.62 49.64,242.75 53.66,222.50" fill="none" stroke="#1a1a1a" stroke-width="0.62" stroke-linejoin="round"/>
<polyline points="21.50,281.14 29.54,279.88 35.57,274.81 43.61,263.84 49.64,249.50 56.67,222.50" fill="none" stroke="#1a1a1a" stroke-width="0.62" stroke-linejoin="round"/>
<polyline points="21.50,282.41 29.54,279.03 35.57,273.12 41.60,264.69 47.63,253.72 51.65,244.44 57.68,222.50" fill="none" stroke="#1a1a1a" stroke-width="0.62" stroke-linejoin="round"/>
<text x="84.40" y="189.00" font-size="5.9" text-anchor="middle" fill="#1a1a1a">0/10</text>
<text x="84.40" y="196.80" font-size="5.9" text-anchor="middle" fill="#1a1a1a">Injected</text>
<text x="84.90" y="203.20" font-size="5.9" text-anchor="middle" fill="#1a1a1a">Vehicle</text>
<text x="84.40" y="271.80" font-size="5.9" text-anchor="middle" fill="#1a1a1a">0/10</text>
<text x="84.40" y="280.30" font-size="5.9" text-anchor="middle" fill="#1a1a1a">Contralateral</text>
<text x="84.90" y="287.00" font-size="5.9" text-anchor="middle" fill="#1a1a1a">Vehicle</text>
<text x="76.00" y="306.20" font-size="5.8" text-anchor="middle" fill="#1a1a1a">Time (days)</text>
<line x1="148.50" y1="141.60" x2="148.50" y2="205.45" stroke="#1a1a1a" stroke-width="0.95" stroke-linecap="butt"/>
<line x1="146.10" y1="205.00" x2="148.50" y2="205.00" stroke="#1a1a1a" stroke-width="0.95" stroke-linecap="butt"/>
<text x="145.60" y="207.09" font-size="5.8" text-anchor="end" fill="#1a1a1a">0</text>
<line x1="146.10" y1="189.15" x2="148.50" y2="189.15" stroke="#1a1a1a" stroke-width="0.95" stroke-linecap="butt"/>
<text x="145.60" y="191.24" font-size="5.8" text-anchor="end" fill="#1a1a1a">200</text>
<line x1="146.10" y1="173.30" x2="148.50" y2="173.30" stroke="#1a1a1a" stroke-width="0.95" stroke-linecap="butt"/>
<text x="145.60" y="175.39" font-size="5.8" text-anchor="end" fill="#1a1a1a">400</text>
<line x1="146.10" y1="157.45" x2="148.50" y2="157.45" stroke="#1a1a1a" stroke-width="0.95" stroke-linecap="butt"/>
<text x="145.60" y="159.54" font-size="5.8" text-anchor="end" fill="#1a1a1a">600</text>
<line x1="146.10" y1="141.60" x2="148.50" y2="141.60" stroke="#1a1a1a" stroke-width="0.95" stroke-linecap="butt"/>
<text x="145.60" y="143.69" font-size="5.8" text-anchor="end" fill="#1a1a1a">800</text>
<line x1="147.18" y1="197.07" x2="148.50" y2="197.07" stroke="#1a1a1a" stroke-width="0.5" stroke-linecap="butt"/>
<line x1="147.18" y1="181.22" x2="148.50" y2="181.22" stroke="#1a1a1a" stroke-width="0.5" stroke-linecap="butt"/>
<line x1="147.18" y1="165.38" x2="148.50" y2="165.38" stroke="#1a1a1a" stroke-width="0.5" stroke-linecap="butt"/>
<line x1="147.18" y1="149.53" x2="148.50" y2="149.53" stroke="#1a1a1a" stroke-width="0.5" stroke-linecap="butt"/>
<line x1="148.05" y1="205.50" x2="249.30" y2="205.50" stroke="#1a1a1a" stroke-width="0.95" stroke-linecap="butt"/>
<line x1="148.80" y1="205.50" x2="148.80" y2="207.70" stroke="#1a1a1a" stroke-width="0.95" stroke-linecap="butt"/>
<text x="148.80" y="213.00" font-size="5.8" text-anchor="middle" fill="#1a1a1a">10</text>
<line x1="168.90" y1="205.50" x2="168.90" y2="207.70" stroke="#1a1a1a" stroke-width="0.95" stroke-linecap="butt"/>
<text x="168.90" y="213.00" font-size="5.8" text-anchor="middle" fill="#1a1a1a">20</text>
<line x1="189.00" y1="205.50" x2="189.00" y2="207.70" stroke="#1a1a1a" stroke-width="0.95" stroke-linecap="butt"/>
<text x="189.00" y="213.00" font-size="5.8" text-anchor="middle" fill="#1a1a1a">30</text>
<line x1="209.10" y1="205.50" x2="209.10" y2="207.70" stroke="#1a1a1a" stroke-width="0.95" stroke-linecap="butt"/>
<text x="209.10" y="213.00" font-size="5.8" text-anchor="middle" fill="#1a1a1a">40</text>
<line x1="229.20" y1="205.50" x2="229.20" y2="207.70" stroke="#1a1a1a" stroke-width="0.95" stroke-linecap="butt"/>
<text x="229.20" y="213.00" font-size="5.8" text-anchor="middle" fill="#1a1a1a">50</text>
<line x1="249.30" y1="205.50" x2="249.30" y2="207.70" stroke="#1a1a1a" stroke-width="0.95" stroke-linecap="butt"/>
<text x="249.30" y="213.00" font-size="5.8" text-anchor="middle" fill="#1a1a1a">60</text>
<line x1="158.85" y1="205.50" x2="158.85" y2="206.71" stroke="#1a1a1a" stroke-width="0.5" stroke-linecap="butt"/>
<line x1="178.95" y1="205.50" x2="178.95" y2="206.71" stroke="#1a1a1a" stroke-width="0.5" stroke-linecap="butt"/>
<line x1="199.05" y1="205.50" x2="199.05" y2="206.71" stroke="#1a1a1a" stroke-width="0.5" stroke-linecap="butt"/>
<line x1="219.15" y1="205.50" x2="219.15" y2="206.71" stroke="#1a1a1a" stroke-width="0.5" stroke-linecap="butt"/>
<line x1="239.25" y1="205.50" x2="239.25" y2="206.71" stroke="#1a1a1a" stroke-width="0.5" stroke-linecap="butt"/>
<line x1="148.50" y1="222.30" x2="148.50" y2="290.65" stroke="#1a1a1a" stroke-width="0.95" stroke-linecap="butt"/>
<line x1="146.10" y1="290.20" x2="148.50" y2="290.20" stroke="#1a1a1a" stroke-width="0.95" stroke-linecap="butt"/>
<text x="145.60" y="292.29" font-size="5.8" text-anchor="end" fill="#1a1a1a">0</text>
<line x1="146.10" y1="273.23" x2="148.50" y2="273.23" stroke="#1a1a1a" stroke-width="0.95" stroke-linecap="butt"/>
<text x="145.60" y="275.31" font-size="5.8" text-anchor="end" fill="#1a1a1a">200</text>
<line x1="146.10" y1="256.25" x2="148.50" y2="256.25" stroke="#1a1a1a" stroke-width="0.95" stroke-linecap="butt"/>
<text x="145.60" y="258.34" font-size="5.8" text-anchor="end" fill="#1a1a1a">400</text>
<line x1="146.10" y1="239.28" x2="148.50" y2="239.28" stroke="#1a1a1a" stroke-width="0.95" stroke-linecap="butt"/>
<text x="145.60" y="241.36" font-size="5.8" text-anchor="end" fill="#1a1a1a">600</text>
<line x1="146.10" y1="222.30" x2="148.50" y2="222.30" stroke="#1a1a1a" stroke-width="0.95" stroke-linecap="butt"/>
<text x="145.60" y="224.39" font-size="5.8" text-anchor="end" fill="#1a1a1a">800</text>
<line x1="147.18" y1="281.71" x2="148.50" y2="281.71" stroke="#1a1a1a" stroke-width="0.5" stroke-linecap="butt"/>
<line x1="147.18" y1="264.74" x2="148.50" y2="264.74" stroke="#1a1a1a" stroke-width="0.5" stroke-linecap="butt"/>
<line x1="147.18" y1="247.76" x2="148.50" y2="247.76" stroke="#1a1a1a" stroke-width="0.5" stroke-linecap="butt"/>
<line x1="147.18" y1="230.79" x2="148.50" y2="230.79" stroke="#1a1a1a" stroke-width="0.5" stroke-linecap="butt"/>
<line x1="148.05" y1="290.50" x2="249.40" y2="290.50" stroke="#1a1a1a" stroke-width="0.95" stroke-linecap="butt"/>
<line x1="148.40" y1="290.50" x2="148.40" y2="292.70" stroke="#1a1a1a" stroke-width="0.95" stroke-linecap="butt"/>
<text x="148.40" y="298.00" font-size="5.8" text-anchor="middle" fill="#1a1a1a">10</text>
<line x1="168.60" y1="290.50" x2="168.60" y2="292.70" stroke="#1a1a1a" stroke-width="0.95" stroke-linecap="butt"/>
<text x="168.60" y="298.00" font-size="5.8" text-anchor="middle" fill="#1a1a1a">20</text>
<line x1="188.80" y1="290.50" x2="188.80" y2="292.70" stroke="#1a1a1a" stroke-width="0.95" stroke-linecap="butt"/>
<text x="188.80" y="298.00" font-size="5.8" text-anchor="middle" fill="#1a1a1a">30</text>
<line x1="209.00" y1="290.50" x2="209.00" y2="292.70" stroke="#1a1a1a" stroke-width="0.95" stroke-linecap="butt"/>
<text x="209.00" y="298.00" font-size="5.8" text-anchor="middle" fill="#1a1a1a">40</text>
<line x1="229.20" y1="290.50" x2="229.20" y2="292.70" stroke="#1a1a1a" stroke-width="0.95" stroke-linecap="butt"/>
<text x="229.20" y="298.00" font-size="5.8" text-anchor="middle" fill="#1a1a1a">50</text>
<line x1="249.40" y1="290.50" x2="249.40" y2="292.70" stroke="#1a1a1a" stroke-width="0.95" stroke-linecap="butt"/>
<text x="249.40" y="298.00" font-size="5.8" text-anchor="middle" fill="#1a1a1a">60</text>
<line x1="158.50" y1="290.50" x2="158.50" y2="291.71" stroke="#1a1a1a" stroke-width="0.5" stroke-linecap="butt"/>
<line x1="178.70" y1="290.50" x2="178.70" y2="291.71" stroke="#1a1a1a" stroke-width="0.5" stroke-linecap="butt"/>
<line x1="198.90" y1="290.50" x2="198.90" y2="291.71" stroke="#1a1a1a" stroke-width="0.5" stroke-linecap="butt"/>
<line x1="219.10" y1="290.50" x2="219.10" y2="291.71" stroke="#1a1a1a" stroke-width="0.5" stroke-linecap="butt"/>
<line x1="239.30" y1="290.50" x2="239.30" y2="291.71" stroke="#1a1a1a" stroke-width="0.5" stroke-linecap="butt"/>
<polyline points="148.80,196.28 154.83,191.53 158.85,186.77 162.87,178.85 168.90,169.73 174.53,141.60" fill="none" stroke="#1a1a1a" stroke-width="0.62" stroke-linejoin="round"/>
<polyline points="148.80,196.28 154.83,192.32 158.85,188.36 162.87,184.40 168.90,182.41 176.94,141.60" fill="none" stroke="#1a1a1a" stroke-width="0.62" stroke-linejoin="round"/>
<polyline points="148.80,195.89 156.84,189.94 162.87,185.19 168.90,181.22 172.92,166.96 178.35,141.60" fill="none" stroke="#1a1a1a" stroke-width="0.62" stroke-linejoin="round"/>
<polyline points="148.80,196.28 156.84,198.66 162.87,200.25 168.90,199.93 176.94,189.15 182.57,171.56 192.62,161.89" fill="none" stroke="#1a1a1a" stroke-width="0.62" stroke-linejoin="round"/>
<polyline points="148.80,196.28 156.84,197.87 162.87,199.06 168.90,199.45 176.94,198.66 182.97,199.45 193.02,199.21 211.11,184.40" fill="none" stroke="#1a1a1a" stroke-width="0.62" stroke-linejoin="round"/>
<polyline points="148.80,195.89 154.83,198.66 160.86,201.83 164.88,204.21 168.90,205.00 174.93,205.00" fill="none" stroke="#1a1a1a" stroke-width="0.62" stroke-linejoin="round"/>
<polyline points="148.80,196.28 154.83,197.87 160.86,201.04 166.89,203.81 170.91,205.00 178.95,204.60 182.97,202.62 186.99,204.21 191.01,205.00" fill="none" stroke="#1a1a1a" stroke-width="0.62" stroke-linejoin="round"/>
<polyline points="148.80,195.49 156.84,199.45 162.87,202.62 166.89,204.60 170.91,205.00" fill="none" stroke="#1a1a1a" stroke-width="0.62" stroke-linejoin="round"/>
<polyline points="148.80,196.68 154.83,200.25 160.86,203.41 164.88,205.00" fill="none" stroke="#1a1a1a" stroke-width="0.62" stroke-linejoin="round"/>
<polyline points="148.80,197.07 156.84,198.26 162.87,200.64 168.90,203.41 174.93,205.00" fill="none" stroke="#1a1a1a" stroke-width="0.62" stroke-linejoin="round"/>
<polyline points="148.40,280.01 154.46,273.23 162.54,259.64 166.58,243.52 170.62,222.30" fill="none" stroke="#1a1a1a" stroke-width="0.62" stroke-linejoin="round"/>
<polyline points="148.40,280.86 154.46,274.07 162.54,261.34 167.59,242.67 171.63,222.30" fill="none" stroke="#1a1a1a" stroke-width="0.62" stroke-linejoin="round"/>
<polyline points="148.40,279.17 154.46,272.38 162.54,257.95 168.60,237.58 172.64,222.30" fill="none" stroke="#1a1a1a" stroke-width="0.62" stroke-linejoin="round"/>
<polyline points="148.40,280.44 156.48,275.77 162.54,270.68 167.19,266.44 172.64,249.46 178.09,222.30" fill="none" stroke="#1a1a1a" stroke-width="0.62" stroke-linejoin="round"/>
<polyline points="148.40,281.71 156.48,280.01 162.54,274.92 168.60,268.98 178.09,251.58 183.55,249.04 185.16,222.30" fill="none" stroke="#1a1a1a" stroke-width="0.62" stroke-linejoin="round"/>
<polyline points="148.40,280.86 156.48,281.71 162.54,276.62 170.62,266.44 178.09,252.43 182.74,250.31 186.78,222.30" fill="none" stroke="#1a1a1a" stroke-width="0.62" stroke-linejoin="round"/>
<polyline points="148.40,280.01 156.48,284.26 164.56,285.96 174.66,285.53 183.95,285.11 192.84,271.70 209.00,222.30" fill="none" stroke="#1a1a1a" stroke-width="0.62" stroke-linejoin="round"/>
<polyline points="148.40,281.29 156.48,285.11 164.56,286.38 176.68,285.96 184.76,285.11 190.82,283.41 211.42,244.79" fill="none" stroke="#1a1a1a" stroke-width="0.62" stroke-linejoin="round"/>
<polyline points="148.40,280.86 156.48,283.41 164.56,285.11 176.68,286.81 184.76,287.65 192.84,285.53 211.42,263.72" fill="none" stroke="#1a1a1a" stroke-width="0.62" stroke-linejoin="round"/>
<polyline points="148.40,280.01 156.48,282.56 164.56,286.81 172.64,289.35 178.70,290.20" fill="none" stroke="#1a1a1a" stroke-width="0.62" stroke-linejoin="round"/>
<text x="229.40" y="187.90" font-size="5.9" text-anchor="middle" fill="#1a1a1a">4/10</text>
<text x="229.50" y="195.20" font-size="5.9" text-anchor="middle" fill="#1a1a1a">Injected</text>
<text x="228.60" y="202.00" font-size="5.9" text-anchor="middle" fill="#1a1a1a">αCTLA-4</text>
<text x="229.40" y="271.20" font-size="5.9" text-anchor="middle" fill="#1a1a1a">1/10</text>
<text x="227.90" y="279.00" font-size="5.9" text-anchor="middle" fill="#1a1a1a">Contralateral</text>
<text x="228.10" y="286.30" font-size="5.9" text-anchor="middle" fill="#1a1a1a">αCTLA-4</text>
<text x="203.50" y="306.20" font-size="5.8" text-anchor="middle" fill="#1a1a1a">Time (days)</text>
<line x1="275.50" y1="141.60" x2="275.50" y2="205.55" stroke="#1a1a1a" stroke-width="0.95" stroke-linecap="butt"/>
<line x1="273.10" y1="205.10" x2="275.50" y2="205.10" stroke="#1a1a1a" stroke-width="0.95" stroke-linecap="butt"/>
<text x="272.60" y="207.19" font-size="5.8" text-anchor="end" fill="#1a1a1a">0</text>
<line x1="273.10" y1="189.22" x2="275.50" y2="189.22" stroke="#1a1a1a" stroke-width="0.95" stroke-linecap="butt"/>
<text x="272.60" y="191.31" font-size="5.8" text-anchor="end" fill="#1a1a1a">200</text>
<line x1="273.10" y1="173.35" x2="275.50" y2="173.35" stroke="#1a1a1a" stroke-width="0.95" stroke-linecap="butt"/>
<text x="272.60" y="175.44" font-size="5.8" text-anchor="end" fill="#1a1a1a">400</text>
<line x1="273.10" y1="157.47" x2="275.50" y2="157.47" stroke="#1a1a1a" stroke-width="0.95" stroke-linecap="butt"/>
<text x="272.60" y="159.56" font-size="5.8" text-anchor="end" fill="#1a1a1a">600</text>
<line x1="273.10" y1="141.60" x2="275.50" y2="141.60" stroke="#1a1a1a" stroke-width="0.95" stroke-linecap="butt"/>
<text x="272.60" y="143.69" font-size="5.8" text-anchor="end" fill="#1a1a1a">800</text>
<line x1="274.18" y1="197.16" x2="275.50" y2="197.16" stroke="#1a1a1a" stroke-width="0.5" stroke-linecap="butt"/>
<line x1="274.18" y1="181.29" x2="275.50" y2="181.29" stroke="#1a1a1a" stroke-width="0.5" stroke-linecap="butt"/>
<line x1="274.18" y1="165.41" x2="275.50" y2="165.41" stroke="#1a1a1a" stroke-width="0.5" stroke-linecap="butt"/>
<line x1="274.18" y1="149.54" x2="275.50" y2="149.54" stroke="#1a1a1a" stroke-width="0.5" stroke-linecap="butt"/>
<line x1="275.05" y1="205.50" x2="376.60" y2="205.50" stroke="#1a1a1a" stroke-width="0.95" stroke-linecap="butt"/>
<line x1="275.30" y1="205.50" x2="275.30" y2="207.70" stroke="#1a1a1a" stroke-width="0.95" stroke-linecap="butt"/>
<text x="275.30" y="213.00" font-size="5.8" text-anchor="middle" fill="#1a1a1a">10</text>
<line x1="295.56" y1="205.50" x2="295.56" y2="207.70" stroke="#1a1a1a" stroke-width="0.95" stroke-linecap="butt"/>
<text x="295.56" y="213.00" font-size="5.8" text-anchor="middle" fill="#1a1a1a">20</text>
<line x1="315.82" y1="205.50" x2="315.82" y2="207.70" stroke="#1a1a1a" stroke-width="0.95" stroke-linecap="butt"/>
<text x="315.82" y="213.00" font-size="5.8" text-anchor="middle" fill="#1a1a1a">30</text>
<line x1="336.08" y1="205.50" x2="336.08" y2="207.70" stroke="#1a1a1a" stroke-width="0.95" stroke-linecap="butt"/>
<text x="336.08" y="213.00" font-size="5.8" text-anchor="middle" fill="#1a1a1a">40</text>
<line x1="356.34" y1="205.50" x2="356.34" y2="207.70" stroke="#1a1a1a" stroke-width="0.95" stroke-linecap="butt"/>
<text x="356.34" y="213.00" font-size="5.8" text-anchor="middle" fill="#1a1a1a">50</text>
<line x1="376.60" y1="205.50" x2="376.60" y2="207.70" stroke="#1a1a1a" stroke-width="0.95" stroke-linecap="butt"/>
<text x="376.60" y="213.00" font-size="5.8" text-anchor="middle" fill="#1a1a1a">60</text>
<line x1="285.43" y1="205.50" x2="285.43" y2="206.71" stroke="#1a1a1a" stroke-width="0.5" stroke-linecap="butt"/>
<line x1="305.69" y1="205.50" x2="305.69" y2="206.71" stroke="#1a1a1a" stroke-width="0.5" stroke-linecap="butt"/>
<line x1="325.95" y1="205.50" x2="325.95" y2="206.71" stroke="#1a1a1a" stroke-width="0.5" stroke-linecap="butt"/>
<line x1="346.21" y1="205.50" x2="346.21" y2="206.71" stroke="#1a1a1a" stroke-width="0.5" stroke-linecap="butt"/>
<line x1="366.47" y1="205.50" x2="366.47" y2="206.71" stroke="#1a1a1a" stroke-width="0.5" stroke-linecap="butt"/>
<text x="270.40" y="297.50" font-size="5.8" text-anchor="end" fill="#1a1a1a">0</text>
<line x1="275.50" y1="222.30" x2="275.50" y2="290.45" stroke="#1a1a1a" stroke-width="0.95" stroke-linecap="butt"/>
<line x1="273.10" y1="290.00" x2="275.50" y2="290.00" stroke="#1a1a1a" stroke-width="0.95" stroke-linecap="butt"/>
<line x1="273.10" y1="273.07" x2="275.50" y2="273.07" stroke="#1a1a1a" stroke-width="0.95" stroke-linecap="butt"/>
<text x="272.60" y="275.16" font-size="5.8" text-anchor="end" fill="#1a1a1a">200</text>
<line x1="273.10" y1="256.15" x2="275.50" y2="256.15" stroke="#1a1a1a" stroke-width="0.95" stroke-linecap="butt"/>
<text x="272.60" y="258.24" font-size="5.8" text-anchor="end" fill="#1a1a1a">400</text>
<line x1="273.10" y1="239.22" x2="275.50" y2="239.22" stroke="#1a1a1a" stroke-width="0.95" stroke-linecap="butt"/>
<text x="272.60" y="241.31" font-size="5.8" text-anchor="end" fill="#1a1a1a">600</text>
<line x1="273.10" y1="222.30" x2="275.50" y2="222.30" stroke="#1a1a1a" stroke-width="0.95" stroke-linecap="butt"/>
<text x="272.60" y="224.39" font-size="5.8" text-anchor="end" fill="#1a1a1a">800</text>
<line x1="274.18" y1="281.54" x2="275.50" y2="281.54" stroke="#1a1a1a" stroke-width="0.5" stroke-linecap="butt"/>
<line x1="274.18" y1="264.61" x2="275.50" y2="264.61" stroke="#1a1a1a" stroke-width="0.5" stroke-linecap="butt"/>
<line x1="274.18" y1="247.69" x2="275.50" y2="247.69" stroke="#1a1a1a" stroke-width="0.5" stroke-linecap="butt"/>
<line x1="274.18" y1="230.76" x2="275.50" y2="230.76" stroke="#1a1a1a" stroke-width="0.5" stroke-linecap="butt"/>
<line x1="275.05" y1="290.50" x2="376.60" y2="290.50" stroke="#1a1a1a" stroke-width="0.95" stroke-linecap="butt"/>
<line x1="275.40" y1="290.50" x2="275.40" y2="292.70" stroke="#1a1a1a" stroke-width="0.95" stroke-linecap="butt"/>
<text x="275.40" y="298.00" font-size="5.8" text-anchor="middle" fill="#1a1a1a">10</text>
<line x1="295.64" y1="290.50" x2="295.64" y2="292.70" stroke="#1a1a1a" stroke-width="0.95" stroke-linecap="butt"/>
<text x="295.64" y="298.00" font-size="5.8" text-anchor="middle" fill="#1a1a1a">20</text>
<line x1="315.88" y1="290.50" x2="315.88" y2="292.70" stroke="#1a1a1a" stroke-width="0.95" stroke-linecap="butt"/>
<text x="315.88" y="298.00" font-size="5.8" text-anchor="middle" fill="#1a1a1a">30</text>
<line x1="336.12" y1="290.50" x2="336.12" y2="292.70" stroke="#1a1a1a" stroke-width="0.95" stroke-linecap="butt"/>
<text x="336.12" y="298.00" font-size="5.8" text-anchor="middle" fill="#1a1a1a">40</text>
<line x1="356.36" y1="290.50" x2="356.36" y2="292.70" stroke="#1a1a1a" stroke-width="0.95" stroke-linecap="butt"/>
<text x="356.36" y="298.00" font-size="5.8" text-anchor="middle" fill="#1a1a1a">50</text>
<line x1="376.60" y1="290.50" x2="376.60" y2="292.70" stroke="#1a1a1a" stroke-width="0.95" stroke-linecap="butt"/>
<text x="376.60" y="298.00" font-size="5.8" text-anchor="middle" fill="#1a1a1a">60</text>
<line x1="285.52" y1="290.50" x2="285.52" y2="291.71" stroke="#1a1a1a" stroke-width="0.5" stroke-linecap="butt"/>
<line x1="305.76" y1="290.50" x2="305.76" y2="291.71" stroke="#1a1a1a" stroke-width="0.5" stroke-linecap="butt"/>
<line x1="326.00" y1="290.50" x2="326.00" y2="291.71" stroke="#1a1a1a" stroke-width="0.5" stroke-linecap="butt"/>
<line x1="346.24" y1="290.50" x2="346.24" y2="291.71" stroke="#1a1a1a" stroke-width="0.5" stroke-linecap="butt"/>
<line x1="366.48" y1="290.50" x2="366.48" y2="291.71" stroke="#1a1a1a" stroke-width="0.5" stroke-linecap="butt"/>
<polyline points="275.30,193.19 281.38,193.19 285.43,194.38 289.48,197.16 293.53,200.34 297.59,203.51 301.64,205.10" fill="none" stroke="#1a1a1a" stroke-width="0.62" stroke-linejoin="round"/>
<polyline points="275.30,194.78 283.40,195.57 289.48,193.19 293.53,193.99 299.61,198.75 305.69,203.51 308.73,205.10" fill="none" stroke="#1a1a1a" stroke-width="0.62" stroke-linejoin="round"/>
<polyline points="275.30,193.99 281.38,193.99 287.46,196.37 293.53,199.54 299.61,203.51 303.66,205.10" fill="none" stroke="#1a1a1a" stroke-width="0.62" stroke-linejoin="round"/>
<polyline points="275.30,195.57 281.38,198.75 287.46,201.92 293.53,204.31 297.59,205.10" fill="none" stroke="#1a1a1a" stroke-width="0.62" stroke-linejoin="round"/>
<polyline points="275.30,197.16 285.43,197.16 291.51,198.75 297.59,201.92 303.66,204.31 305.69,205.10" fill="none" stroke="#1a1a1a" stroke-width="0.62" stroke-linejoin="round"/>
<polyline points="275.30,196.37 281.38,199.54 287.46,202.72 291.51,205.10" fill="none" stroke="#1a1a1a" stroke-width="0.62" stroke-linejoin="round"/>
<polyline points="275.30,195.18 283.40,197.16 289.48,196.37 295.56,197.16 301.64,201.13 307.72,205.10" fill="none" stroke="#1a1a1a" stroke-width="0.62" stroke-linejoin="round"/>
<polyline points="275.30,197.96 281.38,200.34 287.46,202.72 293.53,204.70 295.56,205.10" fill="none" stroke="#1a1a1a" stroke-width="0.62" stroke-linejoin="round"/>
<polyline points="275.30,196.77 283.40,198.35 289.48,199.54 295.56,201.13 299.61,203.51 303.66,205.10" fill="none" stroke="#1a1a1a" stroke-width="0.62" stroke-linejoin="round"/>
<polyline points="275.30,194.38 281.38,196.37 289.48,197.96 295.56,200.34 301.64,204.31 303.66,205.10" fill="none" stroke="#1a1a1a" stroke-width="0.62" stroke-linejoin="round"/>
<polyline points="275.40,277.31 281.47,270.54 289.57,262.07 293.62,243.46 298.27,222.30" fill="none" stroke="#1a1a1a" stroke-width="0.62" stroke-linejoin="round"/>
<polyline points="275.40,278.15 283.50,270.54 292.00,260.80 297.66,243.46 305.15,222.30" fill="none" stroke="#1a1a1a" stroke-width="0.62" stroke-linejoin="round"/>
<polyline points="275.40,276.46 281.47,269.69 287.54,264.61 295.64,258.69 303.74,257.84 310.42,222.30" fill="none" stroke="#1a1a1a" stroke-width="0.62" stroke-linejoin="round"/>
<polyline points="275.40,277.31 283.50,271.38 289.57,268.84 295.64,273.92 299.69,268.00 305.76,251.92 314.46,222.30" fill="none" stroke="#1a1a1a" stroke-width="0.62" stroke-linejoin="round"/>
<polyline points="275.40,281.54 283.50,278.15 291.59,271.38 299.69,274.77 309.81,279.42 319.93,254.88 325.39,222.30" fill="none" stroke="#1a1a1a" stroke-width="0.62" stroke-linejoin="round"/>
<polyline points="275.40,281.54 279.45,281.54 295.64,273.07 299.69,277.31 307.78,279.85 336.12,290.00" fill="none" stroke="#1a1a1a" stroke-width="0.62" stroke-linejoin="round"/>
<polyline points="275.40,279.85 283.50,274.77 289.57,271.38 295.03,266.31 301.71,279.00 307.78,290.00" fill="none" stroke="#1a1a1a" stroke-width="0.62" stroke-linejoin="round"/>
<polyline points="275.40,281.54 285.52,281.54 295.64,270.54 303.74,279.85 313.86,290.00" fill="none" stroke="#1a1a1a" stroke-width="0.62" stroke-linejoin="round"/>
<polyline points="275.40,281.54 283.50,283.23 289.57,286.62 295.64,290.00" fill="none" stroke="#1a1a1a" stroke-width="0.62" stroke-linejoin="round"/>
<polyline points="275.40,280.69 285.52,279.85 291.59,273.07 299.69,281.54 305.76,287.46 309.81,290.00" fill="none" stroke="#1a1a1a" stroke-width="0.62" stroke-linejoin="round"/>
<text x="348.00" y="187.80" font-size="5.9" text-anchor="middle" fill="#1a1a1a">10/10</text>
<text x="346.60" y="195.20" font-size="5.9" text-anchor="middle" fill="#1a1a1a">Injected</text>
<text x="346.60" y="202.20" font-size="5.9" text-anchor="middle" fill="#1a1a1a">OncoVEX<tspan font-size="4.01" dy="-2.36">mGM-CSF</tspan></text>
<text x="355.30" y="267.90" font-size="5.9" text-anchor="middle" fill="#1a1a1a">4/10</text>
<text x="353.70" y="275.80" font-size="5.9" text-anchor="middle" fill="#1a1a1a">Contralateral</text>
<text x="353.40" y="283.20" font-size="5.9" text-anchor="middle" fill="#1a1a1a">OncoVEX<tspan font-size="4.01" dy="-2.36">mGM-CSF</tspan></text>
<text x="330.00" y="306.20" font-size="5.8" text-anchor="middle" fill="#1a1a1a">Time (days)</text>
<line x1="403.50" y1="141.60" x2="403.50" y2="205.55" stroke="#1a1a1a" stroke-width="0.95" stroke-linecap="butt"/>
<line x1="401.10" y1="205.10" x2="403.50" y2="205.10" stroke="#1a1a1a" stroke-width="0.95" stroke-linecap="butt"/>
<text x="400.60" y="207.19" font-size="5.8" text-anchor="end" fill="#1a1a1a">0</text>
<line x1="401.10" y1="189.22" x2="403.50" y2="189.22" stroke="#1a1a1a" stroke-width="0.95" stroke-linecap="butt"/>
<text x="400.60" y="191.31" font-size="5.8" text-anchor="end" fill="#1a1a1a">200</text>
<line x1="401.10" y1="173.35" x2="403.50" y2="173.35" stroke="#1a1a1a" stroke-width="0.95" stroke-linecap="butt"/>
<text x="400.60" y="175.44" font-size="5.8" text-anchor="end" fill="#1a1a1a">400</text>
<line x1="401.10" y1="157.47" x2="403.50" y2="157.47" stroke="#1a1a1a" stroke-width="0.95" stroke-linecap="butt"/>
<text x="400.60" y="159.56" font-size="5.8" text-anchor="end" fill="#1a1a1a">600</text>
<line x1="401.10" y1="141.60" x2="403.50" y2="141.60" stroke="#1a1a1a" stroke-width="0.95" stroke-linecap="butt"/>
<text x="400.60" y="143.69" font-size="5.8" text-anchor="end" fill="#1a1a1a">800</text>
<line x1="402.18" y1="197.16" x2="403.50" y2="197.16" stroke="#1a1a1a" stroke-width="0.5" stroke-linecap="butt"/>
<line x1="402.18" y1="181.29" x2="403.50" y2="181.29" stroke="#1a1a1a" stroke-width="0.5" stroke-linecap="butt"/>
<line x1="402.18" y1="165.41" x2="403.50" y2="165.41" stroke="#1a1a1a" stroke-width="0.5" stroke-linecap="butt"/>
<line x1="402.18" y1="149.54" x2="403.50" y2="149.54" stroke="#1a1a1a" stroke-width="0.5" stroke-linecap="butt"/>
<line x1="403.05" y1="205.50" x2="501.80" y2="205.50" stroke="#1a1a1a" stroke-width="0.95" stroke-linecap="butt"/>
<line x1="403.80" y1="205.50" x2="403.80" y2="207.70" stroke="#1a1a1a" stroke-width="0.95" stroke-linecap="butt"/>
<text x="403.80" y="213.00" font-size="5.8" text-anchor="middle" fill="#1a1a1a">10</text>
<line x1="423.40" y1="205.50" x2="423.40" y2="207.70" stroke="#1a1a1a" stroke-width="0.95" stroke-linecap="butt"/>
<text x="423.40" y="213.00" font-size="5.8" text-anchor="middle" fill="#1a1a1a">20</text>
<line x1="443.00" y1="205.50" x2="443.00" y2="207.70" stroke="#1a1a1a" stroke-width="0.95" stroke-linecap="butt"/>
<text x="443.00" y="213.00" font-size="5.8" text-anchor="middle" fill="#1a1a1a">30</text>
<line x1="462.60" y1="205.50" x2="462.60" y2="207.70" stroke="#1a1a1a" stroke-width="0.95" stroke-linecap="butt"/>
<text x="462.60" y="213.00" font-size="5.8" text-anchor="middle" fill="#1a1a1a">40</text>
<line x1="482.20" y1="205.50" x2="482.20" y2="207.70" stroke="#1a1a1a" stroke-width="0.95" stroke-linecap="butt"/>
<text x="482.20" y="213.00" font-size="5.8" text-anchor="middle" fill="#1a1a1a">50</text>
<line x1="501.80" y1="205.50" x2="501.80" y2="207.70" stroke="#1a1a1a" stroke-width="0.95" stroke-linecap="butt"/>
<text x="501.80" y="213.00" font-size="5.8" text-anchor="middle" fill="#1a1a1a">60</text>
<line x1="413.60" y1="205.50" x2="413.60" y2="206.71" stroke="#1a1a1a" stroke-width="0.5" stroke-linecap="butt"/>
<line x1="433.20" y1="205.50" x2="433.20" y2="206.71" stroke="#1a1a1a" stroke-width="0.5" stroke-linecap="butt"/>
<line x1="452.80" y1="205.50" x2="452.80" y2="206.71" stroke="#1a1a1a" stroke-width="0.5" stroke-linecap="butt"/>
<line x1="472.40" y1="205.50" x2="472.40" y2="206.71" stroke="#1a1a1a" stroke-width="0.5" stroke-linecap="butt"/>
<line x1="492.00" y1="205.50" x2="492.00" y2="206.71" stroke="#1a1a1a" stroke-width="0.5" stroke-linecap="butt"/>
<line x1="403.50" y1="222.30" x2="403.50" y2="290.65" stroke="#1a1a1a" stroke-width="0.95" stroke-linecap="butt"/>
<line x1="401.10" y1="290.20" x2="403.50" y2="290.20" stroke="#1a1a1a" stroke-width="0.95" stroke-linecap="butt"/>
<text x="400.60" y="292.29" font-size="5.8" text-anchor="end" fill="#1a1a1a">0</text>
<line x1="401.10" y1="273.23" x2="403.50" y2="273.23" stroke="#1a1a1a" stroke-width="0.95" stroke-linecap="butt"/>
<text x="400.60" y="275.31" font-size="5.8" text-anchor="end" fill="#1a1a1a">200</text>
<line x1="401.10" y1="256.25" x2="403.50" y2="256.25" stroke="#1a1a1a" stroke-width="0.95" stroke-linecap="butt"/>
<text x="400.60" y="258.34" font-size="5.8" text-anchor="end" fill="#1a1a1a">400</text>
<line x1="401.10" y1="239.28" x2="403.50" y2="239.28" stroke="#1a1a1a" stroke-width="0.95" stroke-linecap="butt"/>
<text x="400.60" y="241.36" font-size="5.8" text-anchor="end" fill="#1a1a1a">600</text>
<line x1="401.10" y1="222.30" x2="403.50" y2="222.30" stroke="#1a1a1a" stroke-width="0.95" stroke-linecap="butt"/>
<text x="400.60" y="224.39" font-size="5.8" text-anchor="end" fill="#1a1a1a">800</text>
<line x1="402.18" y1="281.71" x2="403.50" y2="281.71" stroke="#1a1a1a" stroke-width="0.5" stroke-linecap="butt"/>
<line x1="402.18" y1="264.74" x2="403.50" y2="264.74" stroke="#1a1a1a" stroke-width="0.5" stroke-linecap="butt"/>
<line x1="402.18" y1="247.76" x2="403.50" y2="247.76" stroke="#1a1a1a" stroke-width="0.5" stroke-linecap="butt"/>
<line x1="402.18" y1="230.79" x2="403.50" y2="230.79" stroke="#1a1a1a" stroke-width="0.5" stroke-linecap="butt"/>
<line x1="403.05" y1="290.50" x2="501.80" y2="290.50" stroke="#1a1a1a" stroke-width="0.95" stroke-linecap="butt"/>
<line x1="403.80" y1="290.50" x2="403.80" y2="292.70" stroke="#1a1a1a" stroke-width="0.95" stroke-linecap="butt"/>
<text x="403.80" y="298.00" font-size="5.8" text-anchor="middle" fill="#1a1a1a">10</text>
<line x1="423.40" y1="290.50" x2="423.40" y2="292.70" stroke="#1a1a1a" stroke-width="0.95" stroke-linecap="butt"/>
<text x="423.40" y="298.00" font-size="5.8" text-anchor="middle" fill="#1a1a1a">20</text>
<line x1="443.00" y1="290.50" x2="443.00" y2="292.70" stroke="#1a1a1a" stroke-width="0.95" stroke-linecap="butt"/>
<text x="443.00" y="298.00" font-size="5.8" text-anchor="middle" fill="#1a1a1a">30</text>
<line x1="462.60" y1="290.50" x2="462.60" y2="292.70" stroke="#1a1a1a" stroke-width="0.95" stroke-linecap="butt"/>
<text x="462.60" y="298.00" font-size="5.8" text-anchor="middle" fill="#1a1a1a">40</text>
<line x1="482.20" y1="290.50" x2="482.20" y2="292.70" stroke="#1a1a1a" stroke-width="0.95" stroke-linecap="butt"/>
<text x="482.20" y="298.00" font-size="5.8" text-anchor="middle" fill="#1a1a1a">50</text>
<line x1="501.80" y1="290.50" x2="501.80" y2="292.70" stroke="#1a1a1a" stroke-width="0.95" stroke-linecap="butt"/>
<text x="501.80" y="298.00" font-size="5.8" text-anchor="middle" fill="#1a1a1a">60</text>
<line x1="413.60" y1="290.50" x2="413.60" y2="291.71" stroke="#1a1a1a" stroke-width="0.5" stroke-linecap="butt"/>
<line x1="433.20" y1="290.50" x2="433.20" y2="291.71" stroke="#1a1a1a" stroke-width="0.5" stroke-linecap="butt"/>
<line x1="452.80" y1="290.50" x2="452.80" y2="291.71" stroke="#1a1a1a" stroke-width="0.5" stroke-linecap="butt"/>
<line x1="472.40" y1="290.50" x2="472.40" y2="291.71" stroke="#1a1a1a" stroke-width="0.5" stroke-linecap="butt"/>
<line x1="492.00" y1="290.50" x2="492.00" y2="291.71" stroke="#1a1a1a" stroke-width="0.5" stroke-linecap="butt"/>
<polyline points="403.80,193.19 411.64,196.37 417.52,193.19 423.40,179.70 431.24,193.99 439.08,201.13 444.96,205.10" fill="none" stroke="#1a1a1a" stroke-width="0.62" stroke-linejoin="round"/>
<polyline points="403.80,191.61 411.64,197.16 417.52,192.40 423.40,190.81 431.24,194.78 437.12,197.96 443.00,203.51 446.92,205.10 464.56,193.19" fill="none" stroke="#1a1a1a" stroke-width="0.62" stroke-linejoin="round"/>
<polyline points="403.80,194.78 411.64,198.75 417.52,193.99 423.40,190.02 431.24,196.37 437.12,200.34 443.00,204.31 444.96,205.10" fill="none" stroke="#1a1a1a" stroke-width="0.62" stroke-linejoin="round"/>
<polyline points="403.80,195.57 411.64,200.34 417.52,198.75 423.40,191.61 431.24,197.16 437.12,201.13 443.00,205.10" fill="none" stroke="#1a1a1a" stroke-width="0.62" stroke-linejoin="round"/>
<polyline points="403.80,196.37 411.64,201.13 417.52,199.54 423.40,193.19 431.24,197.96 437.12,202.72 441.04,205.10" fill="none" stroke="#1a1a1a" stroke-width="0.62" stroke-linejoin="round"/>
<polyline points="403.80,193.99 411.64,197.96 417.52,195.57 423.40,192.40 431.24,198.75 437.12,203.51 439.08,205.10" fill="none" stroke="#1a1a1a" stroke-width="0.62" stroke-linejoin="round"/>
<polyline points="403.80,197.16 411.64,201.92 417.52,200.34 423.40,195.57 431.24,199.54 437.12,204.31 439.08,205.10" fill="none" stroke="#1a1a1a" stroke-width="0.62" stroke-linejoin="round"/>
<polyline points="403.80,192.40 411.64,196.37 417.52,190.81 423.40,190.02 431.24,195.57 437.12,200.34 443.00,205.10" fill="none" stroke="#1a1a1a" stroke-width="0.62" stroke-linejoin="round"/>
<polyline points="403.80,194.78 411.64,200.34 417.52,197.16 423.40,193.99 431.24,196.37 437.12,199.54 443.00,204.31 446.92,205.10" fill="none" stroke="#1a1a1a" stroke-width="0.62" stroke-linejoin="round"/>
<polyline points="403.80,197.96 411.64,202.72 417.52,201.13 423.40,196.37 431.24,200.34 435.16,205.10" fill="none" stroke="#1a1a1a" stroke-width="0.62" stroke-linejoin="round"/>
<polyline points="403.80,277.47 413.60,272.38 417.52,267.28 423.40,267.28 433.20,280.01 443.00,288.50 446.92,290.20 464.56,274.07" fill="none" stroke="#1a1a1a" stroke-width="0.62" stroke-linejoin="round"/>
<polyline points="403.80,278.32 413.60,274.92 417.52,272.38 423.40,272.38 433.20,281.71 443.00,290.20" fill="none" stroke="#1a1a1a" stroke-width="0.62" stroke-linejoin="round"/>
<polyline points="403.80,279.17 413.60,276.62 417.52,273.23 423.40,277.47 431.24,285.11 437.12,290.20" fill="none" stroke="#1a1a1a" stroke-width="0.62" stroke-linejoin="round"/>
<polyline points="403.80,280.86 411.64,283.41 417.52,285.11 423.40,285.96 429.28,289.35 433.20,290.20" fill="none" stroke="#1a1a1a" stroke-width="0.62" stroke-linejoin="round"/>
<polyline points="403.80,280.01 413.60,285.11 423.40,286.81 431.24,290.20" fill="none" stroke="#1a1a1a" stroke-width="0.62" stroke-linejoin="round"/>
<polyline points="403.80,276.62 411.64,278.32 417.52,275.77 423.40,280.01 433.20,285.96 439.08,290.20" fill="none" stroke="#1a1a1a" stroke-width="0.62" stroke-linejoin="round"/>
<polyline points="403.80,281.71 411.64,280.01 417.52,280.86 423.40,283.41 431.24,287.65 435.16,290.20" fill="none" stroke="#1a1a1a" stroke-width="0.62" stroke-linejoin="round"/>
<polyline points="403.80,279.59 413.60,281.71 419.48,284.26 427.32,287.65 433.20,290.20" fill="none" stroke="#1a1a1a" stroke-width="0.62" stroke-linejoin="round"/>
<polyline points="403.80,277.89 411.64,280.86 417.52,278.32 423.40,274.92 431.24,282.56 441.04,289.35 444.96,290.20" fill="none" stroke="#1a1a1a" stroke-width="0.62" stroke-linejoin="round"/>
<polyline points="403.80,282.56 409.68,285.11 415.56,286.81 421.44,288.50 427.32,290.20" fill="none" stroke="#1a1a1a" stroke-width="0.62" stroke-linejoin="round"/>
<text x="485.50" y="187.60" font-size="5.9" text-anchor="middle" fill="#1a1a1a">9/10</text>
<text x="486.00" y="195.20" font-size="5.9" text-anchor="middle" fill="#1a1a1a">Injected</text>
<text x="486.50" y="202.20" font-size="5.9" text-anchor="middle" fill="#1a1a1a">Combination</text>
<text x="481.40" y="257.80" font-size="5.9" text-anchor="middle" fill="#1a1a1a">9/10</text>
<text x="484.60" y="265.40" font-size="5.9" text-anchor="middle" fill="#1a1a1a">Contralateral</text>
<text x="485.00" y="271.80" font-size="5.9" text-anchor="middle" fill="#1a1a1a">Combination</text>
<text x="459.00" y="306.20" font-size="5.8" text-anchor="middle" fill="#1a1a1a">Time (days)</text>
<text x="5.70" y="172.00" font-size="5.85" text-anchor="middle" transform="rotate(-90 5.70 172.00)" fill="#1a1a1a">Tumor volume (mm<tspan font-size="3.8" dy="-2.1">3</tspan><tspan dy="2.1">)</tspan></text>
<text x="5.70" y="256.50" font-size="5.85" text-anchor="middle" transform="rotate(-90 5.70 256.50)" fill="#1a1a1a">Tumor volume (mm<tspan font-size="3.8" dy="-2.1">3</tspan><tspan dy="2.1">)</tspan></text>
<line x1="23.50" y1="314.60" x2="23.50" y2="386.25" stroke="#1a1a1a" stroke-width="0.95" stroke-linecap="butt"/>
<line x1="20.90" y1="385.80" x2="23.50" y2="385.80" stroke="#1a1a1a" stroke-width="0.95" stroke-linecap="butt"/>
<text x="20.30" y="387.74" font-size="5.4" text-anchor="end" fill="#1a1a1a">0</text>
<line x1="20.90" y1="353.55" x2="23.50" y2="353.55" stroke="#1a1a1a" stroke-width="0.95" stroke-linecap="butt"/>
<text x="20.30" y="355.49" font-size="5.4" text-anchor="end" fill="#1a1a1a">50</text>
<line x1="20.90" y1="321.30" x2="23.50" y2="321.30" stroke="#1a1a1a" stroke-width="0.95" stroke-linecap="butt"/>
<text x="20.30" y="323.24" font-size="5.4" text-anchor="end" fill="#1a1a1a">100</text>
<line x1="23.05" y1="385.50" x2="130.00" y2="385.50" stroke="#1a1a1a" stroke-width="0.95" stroke-linecap="butt"/>
<line x1="23.60" y1="385.50" x2="23.60" y2="388.10" stroke="#1a1a1a" stroke-width="0.95" stroke-linecap="butt"/>
<text x="23.60" y="392.90" font-size="5.2" text-anchor="middle" fill="#1a1a1a">0</text>
<line x1="44.88" y1="385.50" x2="44.88" y2="388.10" stroke="#1a1a1a" stroke-width="0.95" stroke-linecap="butt"/>
<text x="44.88" y="392.90" font-size="5.2" text-anchor="middle" fill="#1a1a1a">10</text>
<line x1="66.16" y1="385.50" x2="66.16" y2="388.10" stroke="#1a1a1a" stroke-width="0.95" stroke-linecap="butt"/>
<text x="66.16" y="392.90" font-size="5.2" text-anchor="middle" fill="#1a1a1a">20</text>
<line x1="87.44" y1="385.50" x2="87.44" y2="388.10" stroke="#1a1a1a" stroke-width="0.95" stroke-linecap="butt"/>
<text x="87.44" y="392.90" font-size="5.2" text-anchor="middle" fill="#1a1a1a">30</text>
<line x1="108.72" y1="385.50" x2="108.72" y2="388.10" stroke="#1a1a1a" stroke-width="0.95" stroke-linecap="butt"/>
<text x="108.72" y="392.90" font-size="5.2" text-anchor="middle" fill="#1a1a1a">40</text>
<line x1="130.00" y1="385.50" x2="130.00" y2="388.10" stroke="#1a1a1a" stroke-width="0.95" stroke-linecap="butt"/>
<text x="130.00" y="392.90" font-size="5.2" text-anchor="middle" fill="#1a1a1a">50</text>
<line x1="34.24" y1="385.50" x2="34.24" y2="386.93" stroke="#1a1a1a" stroke-width="0.5" stroke-linecap="butt"/>
<line x1="55.52" y1="385.50" x2="55.52" y2="386.93" stroke="#1a1a1a" stroke-width="0.5" stroke-linecap="butt"/>
<line x1="76.80" y1="385.50" x2="76.80" y2="386.93" stroke="#1a1a1a" stroke-width="0.5" stroke-linecap="butt"/>
<line x1="98.08" y1="385.50" x2="98.08" y2="386.93" stroke="#1a1a1a" stroke-width="0.5" stroke-linecap="butt"/>
<line x1="119.36" y1="385.50" x2="119.36" y2="386.93" stroke="#1a1a1a" stroke-width="0.5" stroke-linecap="butt"/>
<text x="8.40" y="352.70" font-size="5.6" text-anchor="middle" transform="rotate(-90 8.40 352.70)" fill="#1a1a1a">Percent survival</text>
<text x="82.20" y="402.40" font-size="5.8" text-anchor="middle" fill="#1a1a1a">Time (days)</text>
<polyline points="23.60,321.30 74.88,321.30" fill="none" stroke="#1a1a1a" stroke-width="1.5" stroke-linejoin="round"/>
<polyline points="74.88,321.30 111.27,321.30" fill="none" stroke="#1a1a1a" stroke-width="1.3" stroke-linejoin="round" stroke-dasharray="2.6,1.2,0.8,1.2"/>
<polyline points="74.88,321.30 74.88,353.55 81.27,353.55 81.27,379.35 92.12,379.35 92.12,385.80" fill="none" stroke="#1a1a1a" stroke-width="1.1" stroke-linejoin="round"/>
<polyline points="75.95,321.30 75.95,327.75 81.27,327.75 81.27,334.20 92.12,334.20 92.12,353.55 111.27,353.55" fill="none" stroke="#1a1a1a" stroke-width="1.5" stroke-linejoin="round" stroke-dasharray="2.2,1.2"/>
<polyline points="77.23,327.75 77.23,340.65 81.27,340.65 81.27,347.10 92.12,347.10 93.19,347.10 93.19,360.00 111.27,360.00 111.27,366.45" fill="none" stroke="#1a1a1a" stroke-width="1.0" stroke-linejoin="round" stroke-dasharray="1.2,1.1"/>
<line x1="132.30" y1="321.00" x2="139.90" y2="321.00" stroke="#1a1a1a" stroke-width="1.0" stroke-linecap="butt"/>
<line x1="136.10" y1="320.00" x2="136.10" y2="322.00" stroke="#1a1a1a" stroke-width="0.8" stroke-linecap="butt"/>
<text x="144.20" y="322.90" font-size="5.8" text-anchor="start" fill="#1a1a1a">Vehicle</text>
<line x1="132.30" y1="327.80" x2="139.90" y2="327.80" stroke="#1a1a1a" stroke-width="1.5" stroke-dasharray="2.2,1.2" stroke-linecap="butt"/>
<text x="144.20" y="329.70" font-size="5.8" text-anchor="start" fill="#1a1a1a">OncoVEX<tspan font-size="3.94" dy="-2.32">mGM-CSF</tspan></text>
<line x1="132.30" y1="337.40" x2="139.90" y2="337.40" stroke="#1a1a1a" stroke-width="1.0" stroke-dasharray="1.2,1.1" stroke-linecap="butt"/>
<text x="144.20" y="339.30" font-size="5.8" text-anchor="start" fill="#1a1a1a">αCTLA-4</text>
<line x1="132.30" y1="345.40" x2="139.90" y2="345.40" stroke="#1a1a1a" stroke-width="1.3" stroke-dasharray="2.6,1.2,0.8,1.2" stroke-linecap="butt"/>
<text x="144.20" y="347.30" font-size="5.8" text-anchor="start" fill="#1a1a1a">OncoVEX<tspan font-size="3.94" dy="-2.32">mGM-CSF</tspan><tspan dy="2.32"> + αCTLA-4</tspan></text>
<text x="131.90" y="372.00" font-size="5.8" text-anchor="start" fill="#1a1a1a">Combo vs.OncoVEX<tspan font-size="3.94" dy="-2.32">mGM-CSF</tspan><tspan dy="2.32"> </tspan><tspan font-style="italic">P</tspan> = 0.012</text>
<text x="131.90" y="379.00" font-size="5.8" text-anchor="start" fill="#1a1a1a">Combo vs.αCTLA-4 <tspan font-style="italic">P</tspan> = 0.001</text>
<text transform="translate(0.30 414.90) scale(0.93 1)" font-size="14.2" font-weight="bold" fill="#111" style="stroke:#111;stroke-width:0.35px">G</text>
<text transform="translate(126.50 414.30) scale(0.93 1)" font-size="14.2" font-weight="bold" fill="#111" style="stroke:#111;stroke-width:0.35px">H</text>
<text transform="translate(256.10 414.30) scale(0.93 1)" font-size="14.2" font-weight="bold" fill="#111" style="stroke:#111;stroke-width:0.35px">I</text>
<text transform="translate(382.80 414.30) scale(0.93 1)" font-size="14.2" font-weight="bold" fill="#111" style="stroke:#111;stroke-width:0.35px">J</text>
<line x1="22.50" y1="417.70" x2="22.50" y2="482.65" stroke="#1a1a1a" stroke-width="0.95" stroke-linecap="butt"/>
<line x1="20.10" y1="482.20" x2="22.50" y2="482.20" stroke="#1a1a1a" stroke-width="0.95" stroke-linecap="butt"/>
<text x="19.60" y="484.29" font-size="5.8" text-anchor="end" fill="#1a1a1a">0</text>
<line x1="20.10" y1="466.07" x2="22.50" y2="466.07" stroke="#1a1a1a" stroke-width="0.95" stroke-linecap="butt"/>
<text x="19.60" y="468.16" font-size="5.8" text-anchor="end" fill="#1a1a1a">200</text>
<line x1="20.10" y1="449.95" x2="22.50" y2="449.95" stroke="#1a1a1a" stroke-width="0.95" stroke-linecap="butt"/>
<text x="19.60" y="452.04" font-size="5.8" text-anchor="end" fill="#1a1a1a">400</text>
<line x1="20.10" y1="433.82" x2="22.50" y2="433.82" stroke="#1a1a1a" stroke-width="0.95" stroke-linecap="butt"/>
<text x="19.60" y="435.91" font-size="5.8" text-anchor="end" fill="#1a1a1a">600</text>
<line x1="20.10" y1="417.70" x2="22.50" y2="417.70" stroke="#1a1a1a" stroke-width="0.95" stroke-linecap="butt"/>
<text x="19.60" y="419.79" font-size="5.8" text-anchor="end" fill="#1a1a1a">800</text>
<line x1="21.18" y1="474.14" x2="22.50" y2="474.14" stroke="#1a1a1a" stroke-width="0.5" stroke-linecap="butt"/>
<line x1="21.18" y1="458.01" x2="22.50" y2="458.01" stroke="#1a1a1a" stroke-width="0.5" stroke-linecap="butt"/>
<line x1="21.18" y1="441.89" x2="22.50" y2="441.89" stroke="#1a1a1a" stroke-width="0.5" stroke-linecap="butt"/>
<line x1="21.18" y1="425.76" x2="22.50" y2="425.76" stroke="#1a1a1a" stroke-width="0.5" stroke-linecap="butt"/>
<line x1="22.05" y1="482.50" x2="123.20" y2="482.50" stroke="#1a1a1a" stroke-width="0.95" stroke-linecap="butt"/>
<line x1="22.20" y1="482.50" x2="22.20" y2="484.70" stroke="#1a1a1a" stroke-width="0.95" stroke-linecap="butt"/>
<text x="22.20" y="490.00" font-size="5.8" text-anchor="middle" fill="#1a1a1a">10</text>
<line x1="47.45" y1="482.50" x2="47.45" y2="484.70" stroke="#1a1a1a" stroke-width="0.95" stroke-linecap="butt"/>
<text x="47.45" y="490.00" font-size="5.8" text-anchor="middle" fill="#1a1a1a">20</text>
<line x1="72.70" y1="482.50" x2="72.70" y2="484.70" stroke="#1a1a1a" stroke-width="0.95" stroke-linecap="butt"/>
<text x="72.70" y="490.00" font-size="5.8" text-anchor="middle" fill="#1a1a1a">30</text>
<line x1="97.95" y1="482.50" x2="97.95" y2="484.70" stroke="#1a1a1a" stroke-width="0.95" stroke-linecap="butt"/>
<text x="97.95" y="490.00" font-size="5.8" text-anchor="middle" fill="#1a1a1a">40</text>
<line x1="123.20" y1="482.50" x2="123.20" y2="484.70" stroke="#1a1a1a" stroke-width="0.95" stroke-linecap="butt"/>
<text x="123.20" y="490.00" font-size="5.8" text-anchor="middle" fill="#1a1a1a">50</text>
<line x1="34.83" y1="482.50" x2="34.83" y2="483.71" stroke="#1a1a1a" stroke-width="0.5" stroke-linecap="butt"/>
<line x1="60.08" y1="482.50" x2="60.08" y2="483.71" stroke="#1a1a1a" stroke-width="0.5" stroke-linecap="butt"/>
<line x1="85.33" y1="482.50" x2="85.33" y2="483.71" stroke="#1a1a1a" stroke-width="0.5" stroke-linecap="butt"/>
<line x1="110.58" y1="482.50" x2="110.58" y2="483.71" stroke="#1a1a1a" stroke-width="0.5" stroke-linecap="butt"/>
<line x1="22.50" y1="502.00" x2="22.50" y2="569.95" stroke="#1a1a1a" stroke-width="0.95" stroke-linecap="butt"/>
<line x1="20.10" y1="569.50" x2="22.50" y2="569.50" stroke="#1a1a1a" stroke-width="0.95" stroke-linecap="butt"/>
<text x="19.60" y="571.59" font-size="5.8" text-anchor="end" fill="#1a1a1a">0</text>
<line x1="20.10" y1="552.62" x2="22.50" y2="552.62" stroke="#1a1a1a" stroke-width="0.95" stroke-linecap="butt"/>
<text x="19.60" y="554.71" font-size="5.8" text-anchor="end" fill="#1a1a1a">200</text>
<line x1="20.10" y1="535.75" x2="22.50" y2="535.75" stroke="#1a1a1a" stroke-width="0.95" stroke-linecap="butt"/>
<text x="19.60" y="537.84" font-size="5.8" text-anchor="end" fill="#1a1a1a">400</text>
<line x1="20.10" y1="518.88" x2="22.50" y2="518.88" stroke="#1a1a1a" stroke-width="0.95" stroke-linecap="butt"/>
<text x="19.60" y="520.96" font-size="5.8" text-anchor="end" fill="#1a1a1a">600</text>
<line x1="20.10" y1="502.00" x2="22.50" y2="502.00" stroke="#1a1a1a" stroke-width="0.95" stroke-linecap="butt"/>
<text x="19.60" y="504.09" font-size="5.8" text-anchor="end" fill="#1a1a1a">800</text>
<line x1="21.18" y1="561.06" x2="22.50" y2="561.06" stroke="#1a1a1a" stroke-width="0.5" stroke-linecap="butt"/>
<line x1="21.18" y1="544.19" x2="22.50" y2="544.19" stroke="#1a1a1a" stroke-width="0.5" stroke-linecap="butt"/>
<line x1="21.18" y1="527.31" x2="22.50" y2="527.31" stroke="#1a1a1a" stroke-width="0.5" stroke-linecap="butt"/>
<line x1="21.18" y1="510.44" x2="22.50" y2="510.44" stroke="#1a1a1a" stroke-width="0.5" stroke-linecap="butt"/>
<line x1="22.05" y1="569.50" x2="123.50" y2="569.50" stroke="#1a1a1a" stroke-width="0.95" stroke-linecap="butt"/>
<line x1="22.30" y1="569.50" x2="22.30" y2="571.70" stroke="#1a1a1a" stroke-width="0.95" stroke-linecap="butt"/>
<text x="22.30" y="577.00" font-size="5.8" text-anchor="middle" fill="#1a1a1a">10</text>
<line x1="47.60" y1="569.50" x2="47.60" y2="571.70" stroke="#1a1a1a" stroke-width="0.95" stroke-linecap="butt"/>
<text x="47.60" y="577.00" font-size="5.8" text-anchor="middle" fill="#1a1a1a">20</text>
<line x1="72.90" y1="569.50" x2="72.90" y2="571.70" stroke="#1a1a1a" stroke-width="0.95" stroke-linecap="butt"/>
<text x="72.90" y="577.00" font-size="5.8" text-anchor="middle" fill="#1a1a1a">30</text>
<line x1="98.20" y1="569.50" x2="98.20" y2="571.70" stroke="#1a1a1a" stroke-width="0.95" stroke-linecap="butt"/>
<text x="98.20" y="577.00" font-size="5.8" text-anchor="middle" fill="#1a1a1a">40</text>
<line x1="123.50" y1="569.50" x2="123.50" y2="571.70" stroke="#1a1a1a" stroke-width="0.95" stroke-linecap="butt"/>
<text x="123.50" y="577.00" font-size="5.8" text-anchor="middle" fill="#1a1a1a">50</text>
<line x1="34.95" y1="569.50" x2="34.95" y2="570.71" stroke="#1a1a1a" stroke-width="0.5" stroke-linecap="butt"/>
<line x1="60.25" y1="569.50" x2="60.25" y2="570.71" stroke="#1a1a1a" stroke-width="0.5" stroke-linecap="butt"/>
<line x1="85.55" y1="569.50" x2="85.55" y2="570.71" stroke="#1a1a1a" stroke-width="0.5" stroke-linecap="butt"/>
<line x1="110.85" y1="569.50" x2="110.85" y2="570.71" stroke="#1a1a1a" stroke-width="0.5" stroke-linecap="butt"/>
<polyline points="22.20,474.14 29.77,462.04 37.35,437.05 41.64,417.70" fill="none" stroke="#1a1a1a" stroke-width="0.75" stroke-linejoin="round"/>
<polyline points="22.20,474.14 29.77,463.66 37.35,440.27 41.14,422.54 41.89,417.70" fill="none" stroke="#1a1a1a" stroke-width="0.75" stroke-linejoin="round"/>
<polyline points="22.20,474.14 29.77,466.07 37.35,445.92 42.40,429.79 45.68,417.70" fill="none" stroke="#1a1a1a" stroke-width="1.1" stroke-linejoin="round"/>
<polyline points="22.20,474.14 29.77,466.88 37.35,448.34 45.68,417.70" fill="none" stroke="#1a1a1a" stroke-width="0.75" stroke-linejoin="round"/>
<polyline points="22.20,474.14 29.77,468.49 39.88,451.56 47.70,441.08" fill="none" stroke="#1a1a1a" stroke-width="0.75" stroke-linejoin="round"/>
<polyline points="22.20,474.94 29.77,470.11 39.88,458.01 47.70,447.53" fill="none" stroke="#1a1a1a" stroke-width="0.75" stroke-linejoin="round"/>
<polyline points="22.20,474.14 29.77,475.75 39.88,466.88 47.70,449.95" fill="none" stroke="#1a1a1a" stroke-width="1.1" stroke-linejoin="round"/>
<polyline points="22.20,474.14 29.77,471.72 38.61,462.04 47.70,444.31" fill="none" stroke="#1a1a1a" stroke-width="0.7" stroke-linejoin="round"/>
<polyline points="22.30,561.06 29.89,548.41 36.72,502.00" fill="none" stroke="#1a1a1a" stroke-width="0.75" stroke-linejoin="round"/>
<polyline points="22.30,561.06 29.89,548.41 34.95,527.31 40.52,502.00" fill="none" stroke="#1a1a1a" stroke-width="0.75" stroke-linejoin="round"/>
<polyline points="22.30,561.06 29.89,547.56 35.71,525.62 41.53,502.00" fill="none" stroke="#1a1a1a" stroke-width="0.75" stroke-linejoin="round"/>
<polyline points="22.30,561.06 29.89,549.25 36.22,525.62 42.54,502.00" fill="none" stroke="#1a1a1a" stroke-width="0.75" stroke-linejoin="round"/>
<polyline points="22.30,561.06 29.89,550.09 37.48,522.25 42.03,502.00" fill="none" stroke="#1a1a1a" stroke-width="0.75" stroke-linejoin="round"/>
<polyline points="22.30,561.06 29.89,552.62 37.48,527.31 47.60,502.00" fill="none" stroke="#1a1a1a" stroke-width="0.75" stroke-linejoin="round"/>
<polyline points="22.30,561.91 29.89,556.84 40.01,531.53 48.36,511.28" fill="none" stroke="#1a1a1a" stroke-width="0.75" stroke-linejoin="round"/>
<polyline points="22.30,562.75 29.89,561.48 41.02,543.77 45.07,527.31 48.61,502.00" fill="none" stroke="#1a1a1a" stroke-width="0.75" stroke-linejoin="round"/>
<polyline points="22.30,561.48 29.89,557.69 40.01,537.44 46.33,518.88" fill="none" stroke="#1a1a1a" stroke-width="0.75" stroke-linejoin="round"/>
<polyline points="22.30,561.06 29.89,554.31 40.01,534.06 45.07,514.66" fill="none" stroke="#1a1a1a" stroke-width="0.75" stroke-linejoin="round"/>
<text x="81.60" y="464.20" font-size="5.9" text-anchor="middle" fill="#1a1a1a">0/10</text>
<text x="81.80" y="471.80" font-size="5.9" text-anchor="middle" fill="#1a1a1a">Injected</text>
<text x="82.20" y="479.20" font-size="5.9" text-anchor="middle" fill="#1a1a1a">vehicle</text>
<text x="83.50" y="551.20" font-size="5.9" text-anchor="middle" fill="#1a1a1a">0/10</text>
<text x="83.40" y="559.40" font-size="5.9" text-anchor="middle" fill="#1a1a1a">Contralateral</text>
<text x="83.90" y="566.00" font-size="5.9" text-anchor="middle" fill="#1a1a1a">vehicle</text>
<text x="77.50" y="583.20" font-size="5.8" text-anchor="middle" fill="#1a1a1a">Time (days)</text>
<text x="5.90" y="450.00" font-size="5.85" text-anchor="middle" transform="rotate(-90 5.90 450.00)" fill="#1a1a1a">Tumor volume (mm<tspan font-size="3.8" dy="-2.1">3</tspan><tspan dy="2.1">)</tspan></text>
<text x="5.90" y="536.00" font-size="5.85" text-anchor="middle" transform="rotate(-90 5.90 536.00)" fill="#1a1a1a">Tumor volume (mm<tspan font-size="3.8" dy="-2.1">3</tspan><tspan dy="2.1">)</tspan></text>
<line x1="149.50" y1="418.00" x2="149.50" y2="482.35" stroke="#1a1a1a" stroke-width="0.95" stroke-linecap="butt"/>
<line x1="147.10" y1="481.90" x2="149.50" y2="481.90" stroke="#1a1a1a" stroke-width="0.95" stroke-linecap="butt"/>
<text x="146.60" y="483.99" font-size="5.8" text-anchor="end" fill="#1a1a1a">0</text>
<line x1="147.10" y1="465.92" x2="149.50" y2="465.92" stroke="#1a1a1a" stroke-width="0.95" stroke-linecap="butt"/>
<text x="146.60" y="468.01" font-size="5.8" text-anchor="end" fill="#1a1a1a">200</text>
<line x1="147.10" y1="449.95" x2="149.50" y2="449.95" stroke="#1a1a1a" stroke-width="0.95" stroke-linecap="butt"/>
<text x="146.60" y="452.04" font-size="5.8" text-anchor="end" fill="#1a1a1a">400</text>
<line x1="147.10" y1="433.98" x2="149.50" y2="433.98" stroke="#1a1a1a" stroke-width="0.95" stroke-linecap="butt"/>
<text x="146.60" y="436.06" font-size="5.8" text-anchor="end" fill="#1a1a1a">600</text>
<line x1="147.10" y1="418.00" x2="149.50" y2="418.00" stroke="#1a1a1a" stroke-width="0.95" stroke-linecap="butt"/>
<text x="146.60" y="420.09" font-size="5.8" text-anchor="end" fill="#1a1a1a">800</text>
<line x1="148.18" y1="473.91" x2="149.50" y2="473.91" stroke="#1a1a1a" stroke-width="0.5" stroke-linecap="butt"/>
<line x1="148.18" y1="457.94" x2="149.50" y2="457.94" stroke="#1a1a1a" stroke-width="0.5" stroke-linecap="butt"/>
<line x1="148.18" y1="441.96" x2="149.50" y2="441.96" stroke="#1a1a1a" stroke-width="0.5" stroke-linecap="butt"/>
<line x1="148.18" y1="425.99" x2="149.50" y2="425.99" stroke="#1a1a1a" stroke-width="0.5" stroke-linecap="butt"/>
<line x1="149.05" y1="481.50" x2="250.10" y2="481.50" stroke="#1a1a1a" stroke-width="0.95" stroke-linecap="butt"/>
<line x1="149.30" y1="481.50" x2="149.30" y2="483.70" stroke="#1a1a1a" stroke-width="0.95" stroke-linecap="butt"/>
<text x="149.30" y="489.00" font-size="5.8" text-anchor="middle" fill="#1a1a1a">10</text>
<line x1="174.50" y1="481.50" x2="174.50" y2="483.70" stroke="#1a1a1a" stroke-width="0.95" stroke-linecap="butt"/>
<text x="174.50" y="489.00" font-size="5.8" text-anchor="middle" fill="#1a1a1a">20</text>
<line x1="199.70" y1="481.50" x2="199.70" y2="483.70" stroke="#1a1a1a" stroke-width="0.95" stroke-linecap="butt"/>
<text x="199.70" y="489.00" font-size="5.8" text-anchor="middle" fill="#1a1a1a">30</text>
<line x1="224.90" y1="481.50" x2="224.90" y2="483.70" stroke="#1a1a1a" stroke-width="0.95" stroke-linecap="butt"/>
<text x="224.90" y="489.00" font-size="5.8" text-anchor="middle" fill="#1a1a1a">40</text>
<line x1="250.10" y1="481.50" x2="250.10" y2="483.70" stroke="#1a1a1a" stroke-width="0.95" stroke-linecap="butt"/>
<text x="250.10" y="489.00" font-size="5.8" text-anchor="middle" fill="#1a1a1a">50</text>
<line x1="161.90" y1="481.50" x2="161.90" y2="482.71" stroke="#1a1a1a" stroke-width="0.5" stroke-linecap="butt"/>
<line x1="187.10" y1="481.50" x2="187.10" y2="482.71" stroke="#1a1a1a" stroke-width="0.5" stroke-linecap="butt"/>
<line x1="212.30" y1="481.50" x2="212.30" y2="482.71" stroke="#1a1a1a" stroke-width="0.5" stroke-linecap="butt"/>
<line x1="237.50" y1="481.50" x2="237.50" y2="482.71" stroke="#1a1a1a" stroke-width="0.5" stroke-linecap="butt"/>
<line x1="149.50" y1="502.00" x2="149.50" y2="569.65" stroke="#1a1a1a" stroke-width="0.95" stroke-linecap="butt"/>
<line x1="147.10" y1="569.20" x2="149.50" y2="569.20" stroke="#1a1a1a" stroke-width="0.95" stroke-linecap="butt"/>
<text x="146.60" y="571.29" font-size="5.8" text-anchor="end" fill="#1a1a1a">0</text>
<line x1="147.10" y1="552.40" x2="149.50" y2="552.40" stroke="#1a1a1a" stroke-width="0.95" stroke-linecap="butt"/>
<text x="146.60" y="554.49" font-size="5.8" text-anchor="end" fill="#1a1a1a">200</text>
<line x1="147.10" y1="535.60" x2="149.50" y2="535.60" stroke="#1a1a1a" stroke-width="0.95" stroke-linecap="butt"/>
<text x="146.60" y="537.69" font-size="5.8" text-anchor="end" fill="#1a1a1a">400</text>
<line x1="147.10" y1="518.80" x2="149.50" y2="518.80" stroke="#1a1a1a" stroke-width="0.95" stroke-linecap="butt"/>
<text x="146.60" y="520.89" font-size="5.8" text-anchor="end" fill="#1a1a1a">600</text>
<line x1="147.10" y1="502.00" x2="149.50" y2="502.00" stroke="#1a1a1a" stroke-width="0.95" stroke-linecap="butt"/>
<text x="146.60" y="504.09" font-size="5.8" text-anchor="end" fill="#1a1a1a">800</text>
<line x1="148.18" y1="560.80" x2="149.50" y2="560.80" stroke="#1a1a1a" stroke-width="0.5" stroke-linecap="butt"/>
<line x1="148.18" y1="544.00" x2="149.50" y2="544.00" stroke="#1a1a1a" stroke-width="0.5" stroke-linecap="butt"/>
<line x1="148.18" y1="527.20" x2="149.50" y2="527.20" stroke="#1a1a1a" stroke-width="0.5" stroke-linecap="butt"/>
<line x1="148.18" y1="510.40" x2="149.50" y2="510.40" stroke="#1a1a1a" stroke-width="0.5" stroke-linecap="butt"/>
<line x1="149.05" y1="569.50" x2="250.10" y2="569.50" stroke="#1a1a1a" stroke-width="0.95" stroke-linecap="butt"/>
<line x1="149.30" y1="569.50" x2="149.30" y2="571.70" stroke="#1a1a1a" stroke-width="0.95" stroke-linecap="butt"/>
<text x="149.30" y="577.00" font-size="5.8" text-anchor="middle" fill="#1a1a1a">10</text>
<line x1="174.50" y1="569.50" x2="174.50" y2="571.70" stroke="#1a1a1a" stroke-width="0.95" stroke-linecap="butt"/>
<text x="174.50" y="577.00" font-size="5.8" text-anchor="middle" fill="#1a1a1a">20</text>
<line x1="199.70" y1="569.50" x2="199.70" y2="571.70" stroke="#1a1a1a" stroke-width="0.95" stroke-linecap="butt"/>
<text x="199.70" y="577.00" font-size="5.8" text-anchor="middle" fill="#1a1a1a">30</text>
<line x1="224.90" y1="569.50" x2="224.90" y2="571.70" stroke="#1a1a1a" stroke-width="0.95" stroke-linecap="butt"/>
<text x="224.90" y="577.00" font-size="5.8" text-anchor="middle" fill="#1a1a1a">40</text>
<line x1="250.10" y1="569.50" x2="250.10" y2="571.70" stroke="#1a1a1a" stroke-width="0.95" stroke-linecap="butt"/>
<text x="250.10" y="577.00" font-size="5.8" text-anchor="middle" fill="#1a1a1a">50</text>
<line x1="161.90" y1="569.50" x2="161.90" y2="570.71" stroke="#1a1a1a" stroke-width="0.5" stroke-linecap="butt"/>
<line x1="187.10" y1="569.50" x2="187.10" y2="570.71" stroke="#1a1a1a" stroke-width="0.5" stroke-linecap="butt"/>
<line x1="212.30" y1="569.50" x2="212.30" y2="570.71" stroke="#1a1a1a" stroke-width="0.5" stroke-linecap="butt"/>
<line x1="237.50" y1="569.50" x2="237.50" y2="570.71" stroke="#1a1a1a" stroke-width="0.5" stroke-linecap="butt"/>
<polyline points="149.30,473.91 156.86,461.93 166.94,436.37" fill="none" stroke="#1a1a1a" stroke-width="0.62" stroke-linejoin="round"/>
<polyline points="149.30,473.91 156.86,462.73 166.44,437.17" fill="none" stroke="#1a1a1a" stroke-width="0.62" stroke-linejoin="round"/>
<polyline points="149.30,473.91 159.38,465.92 166.94,459.53 174.50,445.96 189.62,451.55 202.72,457.54 213.06,425.99" fill="none" stroke="#1a1a1a" stroke-width="0.62" stroke-linejoin="round"/>
<polyline points="149.30,473.91 159.38,467.52 166.94,461.13 174.50,457.94 189.62,454.74 202.72,457.54 214.82,453.54 221.37,447.15 226.16,418.00" fill="none" stroke="#1a1a1a" stroke-width="0.62" stroke-linejoin="round"/>
<polyline points="149.30,473.91 159.38,468.32 166.94,461.93 174.50,460.33 184.58,457.94 192.14,465.92 204.74,470.72 219.61,460.73 228.18,427.58" fill="none" stroke="#1a1a1a" stroke-width="0.62" stroke-linejoin="round"/>
<polyline points="149.30,473.91 159.38,465.92 166.94,461.13 177.02,463.53 187.10,465.92 197.18,468.32 207.26,466.72 217.34,464.33 223.64,457.94" fill="none" stroke="#1a1a1a" stroke-width="0.62" stroke-linejoin="round"/>
<polyline points="149.30,473.91 159.38,469.12 166.94,463.53 174.50,466.72 187.10,469.92 199.70,477.91 204.74,481.90" fill="none" stroke="#1a1a1a" stroke-width="0.62" stroke-linejoin="round"/>
<polyline points="149.30,473.91 159.38,468.32 166.94,462.73 177.02,461.13 184.58,465.92 197.18,475.51 213.31,481.90 219.86,479.90 227.42,481.90" fill="none" stroke="#1a1a1a" stroke-width="0.62" stroke-linejoin="round"/>
<polyline points="149.30,473.91 155.60,473.91 166.94,461.93 174.50,463.53 184.58,467.52 194.66,469.92 204.74,468.32 214.82,463.53 226.16,431.58" fill="none" stroke="#1a1a1a" stroke-width="0.62" stroke-linejoin="round"/>
<polyline points="149.30,561.64 156.86,550.72 166.44,502.00" fill="none" stroke="#1a1a1a" stroke-width="0.62" stroke-linejoin="round"/>
<polyline points="149.30,560.80 156.86,548.20 165.68,502.00" fill="none" stroke="#1a1a1a" stroke-width="0.62" stroke-linejoin="round"/>
<polyline points="149.30,561.64 159.38,552.40 166.94,537.28 173.24,502.00" fill="none" stroke="#1a1a1a" stroke-width="0.62" stroke-linejoin="round"/>
<polyline points="149.30,560.80 159.38,550.72 167.44,532.66 174.75,528.71 184.58,525.52 191.89,547.36 203.23,529.55 210.54,502.00" fill="none" stroke="#1a1a1a" stroke-width="0.62" stroke-linejoin="round"/>
<polyline points="149.30,561.64 159.38,552.40 166.94,541.48 174.50,535.60 184.58,533.92 194.66,535.60 207.26,532.24 214.82,520.48 221.37,502.00" fill="none" stroke="#1a1a1a" stroke-width="0.62" stroke-linejoin="round"/>
<polyline points="149.30,561.64 159.38,553.24 166.94,544.00 177.02,533.92 184.58,537.28 197.18,538.12 209.78,533.92 222.38,502.00" fill="none" stroke="#1a1a1a" stroke-width="0.62" stroke-linejoin="round"/>
<polyline points="149.30,561.64 159.38,552.40 166.94,545.68 177.02,539.80 187.10,535.60 199.70,542.32 211.54,545.68 221.12,502.00" fill="none" stroke="#1a1a1a" stroke-width="0.62" stroke-linejoin="round"/>
<polyline points="149.30,561.64 159.38,552.40 166.94,544.84 177.02,555.76 187.10,560.80 199.70,567.52 207.26,569.20" fill="none" stroke="#1a1a1a" stroke-width="0.62" stroke-linejoin="round"/>
<polyline points="149.30,561.64 159.38,551.56 166.94,542.32 177.02,541.48 187.10,543.16 199.70,552.40 212.30,565.00 219.86,569.20" fill="none" stroke="#1a1a1a" stroke-width="0.62" stroke-linejoin="round"/>
<text x="234.50" y="463.80" font-size="5.9" text-anchor="middle" fill="#1a1a1a">2/10</text>
<text x="234.40" y="471.40" font-size="5.9" text-anchor="middle" fill="#1a1a1a">Injected</text>
<text x="234.20" y="477.90" font-size="5.9" text-anchor="middle" fill="#1a1a1a">αCTLA-4</text>
<text x="232.10" y="551.80" font-size="5.9" text-anchor="middle" fill="#1a1a1a">2/10</text>
<text x="231.70" y="559.60" font-size="5.9" text-anchor="middle" fill="#1a1a1a">Contralateral</text>
<text x="231.90" y="566.20" font-size="5.9" text-anchor="middle" fill="#1a1a1a">αCTLA-4</text>
<text x="204.20" y="583.20" font-size="5.8" text-anchor="middle" fill="#1a1a1a">Time (days)</text>
<line x1="275.50" y1="418.80" x2="275.50" y2="482.45" stroke="#1a1a1a" stroke-width="0.95" stroke-linecap="butt"/>
<line x1="273.10" y1="482.00" x2="275.50" y2="482.00" stroke="#1a1a1a" stroke-width="0.95" stroke-linecap="butt"/>
<text x="272.60" y="484.09" font-size="5.8" text-anchor="end" fill="#1a1a1a">0</text>
<line x1="273.10" y1="466.20" x2="275.50" y2="466.20" stroke="#1a1a1a" stroke-width="0.95" stroke-linecap="butt"/>
<text x="272.60" y="468.29" font-size="5.8" text-anchor="end" fill="#1a1a1a">200</text>
<line x1="273.10" y1="450.40" x2="275.50" y2="450.40" stroke="#1a1a1a" stroke-width="0.95" stroke-linecap="butt"/>
<text x="272.60" y="452.49" font-size="5.8" text-anchor="end" fill="#1a1a1a">400</text>
<line x1="273.10" y1="434.60" x2="275.50" y2="434.60" stroke="#1a1a1a" stroke-width="0.95" stroke-linecap="butt"/>
<text x="272.60" y="436.69" font-size="5.8" text-anchor="end" fill="#1a1a1a">600</text>
<line x1="273.10" y1="418.80" x2="275.50" y2="418.80" stroke="#1a1a1a" stroke-width="0.95" stroke-linecap="butt"/>
<text x="272.60" y="420.89" font-size="5.8" text-anchor="end" fill="#1a1a1a">800</text>
<line x1="274.18" y1="474.10" x2="275.50" y2="474.10" stroke="#1a1a1a" stroke-width="0.5" stroke-linecap="butt"/>
<line x1="274.18" y1="458.30" x2="275.50" y2="458.30" stroke="#1a1a1a" stroke-width="0.5" stroke-linecap="butt"/>
<line x1="274.18" y1="442.50" x2="275.50" y2="442.50" stroke="#1a1a1a" stroke-width="0.5" stroke-linecap="butt"/>
<line x1="274.18" y1="426.70" x2="275.50" y2="426.70" stroke="#1a1a1a" stroke-width="0.5" stroke-linecap="butt"/>
<line x1="275.05" y1="482.50" x2="377.50" y2="482.50" stroke="#1a1a1a" stroke-width="0.95" stroke-linecap="butt"/>
<line x1="275.70" y1="482.50" x2="275.70" y2="484.70" stroke="#1a1a1a" stroke-width="0.95" stroke-linecap="butt"/>
<text x="275.70" y="490.00" font-size="5.8" text-anchor="middle" fill="#1a1a1a">10</text>
<line x1="301.15" y1="482.50" x2="301.15" y2="484.70" stroke="#1a1a1a" stroke-width="0.95" stroke-linecap="butt"/>
<text x="301.15" y="490.00" font-size="5.8" text-anchor="middle" fill="#1a1a1a">20</text>
<line x1="326.60" y1="482.50" x2="326.60" y2="484.70" stroke="#1a1a1a" stroke-width="0.95" stroke-linecap="butt"/>
<text x="326.60" y="490.00" font-size="5.8" text-anchor="middle" fill="#1a1a1a">30</text>
<line x1="352.05" y1="482.50" x2="352.05" y2="484.70" stroke="#1a1a1a" stroke-width="0.95" stroke-linecap="butt"/>
<text x="352.05" y="490.00" font-size="5.8" text-anchor="middle" fill="#1a1a1a">40</text>
<line x1="377.50" y1="482.50" x2="377.50" y2="484.70" stroke="#1a1a1a" stroke-width="0.95" stroke-linecap="butt"/>
<text x="377.50" y="490.00" font-size="5.8" text-anchor="middle" fill="#1a1a1a">50</text>
<line x1="288.43" y1="482.50" x2="288.43" y2="483.71" stroke="#1a1a1a" stroke-width="0.5" stroke-linecap="butt"/>
<line x1="313.88" y1="482.50" x2="313.88" y2="483.71" stroke="#1a1a1a" stroke-width="0.5" stroke-linecap="butt"/>
<line x1="339.32" y1="482.50" x2="339.32" y2="483.71" stroke="#1a1a1a" stroke-width="0.5" stroke-linecap="butt"/>
<line x1="364.77" y1="482.50" x2="364.77" y2="483.71" stroke="#1a1a1a" stroke-width="0.5" stroke-linecap="butt"/>
<line x1="275.50" y1="501.30" x2="275.50" y2="570.45" stroke="#1a1a1a" stroke-width="0.95" stroke-linecap="butt"/>
<line x1="273.10" y1="570.00" x2="275.50" y2="570.00" stroke="#1a1a1a" stroke-width="0.95" stroke-linecap="butt"/>
<text x="272.60" y="572.09" font-size="5.8" text-anchor="end" fill="#1a1a1a">0</text>
<line x1="273.10" y1="552.83" x2="275.50" y2="552.83" stroke="#1a1a1a" stroke-width="0.95" stroke-linecap="butt"/>
<text x="272.60" y="554.91" font-size="5.8" text-anchor="end" fill="#1a1a1a">200</text>
<line x1="273.10" y1="535.65" x2="275.50" y2="535.65" stroke="#1a1a1a" stroke-width="0.95" stroke-linecap="butt"/>
<text x="272.60" y="537.74" font-size="5.8" text-anchor="end" fill="#1a1a1a">400</text>
<line x1="273.10" y1="518.48" x2="275.50" y2="518.48" stroke="#1a1a1a" stroke-width="0.95" stroke-linecap="butt"/>
<text x="272.60" y="520.56" font-size="5.8" text-anchor="end" fill="#1a1a1a">600</text>
<line x1="273.10" y1="501.30" x2="275.50" y2="501.30" stroke="#1a1a1a" stroke-width="0.95" stroke-linecap="butt"/>
<text x="272.60" y="503.39" font-size="5.8" text-anchor="end" fill="#1a1a1a">800</text>
<line x1="274.18" y1="561.41" x2="275.50" y2="561.41" stroke="#1a1a1a" stroke-width="0.5" stroke-linecap="butt"/>
<line x1="274.18" y1="544.24" x2="275.50" y2="544.24" stroke="#1a1a1a" stroke-width="0.5" stroke-linecap="butt"/>
<line x1="274.18" y1="527.06" x2="275.50" y2="527.06" stroke="#1a1a1a" stroke-width="0.5" stroke-linecap="butt"/>
<line x1="274.18" y1="509.89" x2="275.50" y2="509.89" stroke="#1a1a1a" stroke-width="0.5" stroke-linecap="butt"/>
<line x1="275.05" y1="570.50" x2="377.50" y2="570.50" stroke="#1a1a1a" stroke-width="0.95" stroke-linecap="butt"/>
<line x1="275.70" y1="570.50" x2="275.70" y2="572.70" stroke="#1a1a1a" stroke-width="0.95" stroke-linecap="butt"/>
<text x="275.70" y="578.00" font-size="5.8" text-anchor="middle" fill="#1a1a1a">10</text>
<line x1="301.15" y1="570.50" x2="301.15" y2="572.70" stroke="#1a1a1a" stroke-width="0.95" stroke-linecap="butt"/>
<text x="301.15" y="578.00" font-size="5.8" text-anchor="middle" fill="#1a1a1a">20</text>
<line x1="326.60" y1="570.50" x2="326.60" y2="572.70" stroke="#1a1a1a" stroke-width="0.95" stroke-linecap="butt"/>
<text x="326.60" y="578.00" font-size="5.8" text-anchor="middle" fill="#1a1a1a">30</text>
<line x1="352.05" y1="570.50" x2="352.05" y2="572.70" stroke="#1a1a1a" stroke-width="0.95" stroke-linecap="butt"/>
<text x="352.05" y="578.00" font-size="5.8" text-anchor="middle" fill="#1a1a1a">40</text>
<line x1="377.50" y1="570.50" x2="377.50" y2="572.70" stroke="#1a1a1a" stroke-width="0.95" stroke-linecap="butt"/>
<text x="377.50" y="578.00" font-size="5.8" text-anchor="middle" fill="#1a1a1a">50</text>
<line x1="288.43" y1="570.50" x2="288.43" y2="571.71" stroke="#1a1a1a" stroke-width="0.5" stroke-linecap="butt"/>
<line x1="313.88" y1="570.50" x2="313.88" y2="571.71" stroke="#1a1a1a" stroke-width="0.5" stroke-linecap="butt"/>
<line x1="339.32" y1="570.50" x2="339.32" y2="571.71" stroke="#1a1a1a" stroke-width="0.5" stroke-linecap="butt"/>
<line x1="364.77" y1="570.50" x2="364.77" y2="571.71" stroke="#1a1a1a" stroke-width="0.5" stroke-linecap="butt"/>
<polyline points="275.70,474.10 285.88,467.78 293.51,459.88 300.39,446.45 312.09,418.80" fill="none" stroke="#1a1a1a" stroke-width="0.7" stroke-linejoin="round"/>
<polyline points="275.70,474.10 285.88,468.57 293.51,462.25 298.61,454.35 301.15,448.82" fill="none" stroke="#1a1a1a" stroke-width="0.7" stroke-linejoin="round"/>
<polyline points="275.70,474.10 285.88,470.15 293.51,463.83 298.61,461.46 301.15,455.93" fill="none" stroke="#1a1a1a" stroke-width="0.7" stroke-linejoin="round"/>
<polyline points="275.70,474.10 285.88,470.94 293.51,466.20 301.15,468.57 312.09,462.25" fill="none" stroke="#1a1a1a" stroke-width="0.7" stroke-linejoin="round"/>
<polyline points="275.70,474.10 285.88,471.73 293.51,466.99 301.15,467.78 312.09,470.15" fill="none" stroke="#1a1a1a" stroke-width="0.7" stroke-linejoin="round"/>
<polyline points="275.70,474.10 285.88,472.52 293.51,469.36 301.15,466.20 312.09,469.36" fill="none" stroke="#1a1a1a" stroke-width="0.7" stroke-linejoin="round"/>
<polyline points="275.70,474.10 285.88,470.15 292.24,462.25 296.06,466.99 299.88,470.70 303.69,466.20" fill="none" stroke="#1a1a1a" stroke-width="0.7" stroke-linejoin="round"/>
<polyline points="275.70,474.10 288.43,474.10 293.51,474.10 301.15,478.84 306.24,481.21 311.33,482.00" fill="none" stroke="#1a1a1a" stroke-width="0.7" stroke-linejoin="round"/>
<polyline points="275.70,474.10 285.88,473.31 293.51,470.15 298.61,467.78 301.15,470.15" fill="none" stroke="#1a1a1a" stroke-width="0.7" stroke-linejoin="round"/>
<polyline points="275.70,474.10 285.88,469.36 293.51,464.62 298.61,470.94 303.69,467.78 312.09,470.94" fill="none" stroke="#1a1a1a" stroke-width="0.7" stroke-linejoin="round"/>
<polyline points="275.70,561.41 283.33,544.24 288.43,527.06 293.26,501.30" fill="none" stroke="#1a1a1a" stroke-width="0.72" stroke-linejoin="round"/>
<polyline points="275.70,561.41 283.33,545.96 289.70,527.06 295.04,501.30" fill="none" stroke="#1a1a1a" stroke-width="0.72" stroke-linejoin="round"/>
<polyline points="275.70,561.41 283.33,548.53 290.97,527.06 296.31,501.30" fill="none" stroke="#1a1a1a" stroke-width="0.72" stroke-linejoin="round"/>
<polyline points="275.70,561.41 283.33,550.25 290.97,531.36 299.11,501.30" fill="none" stroke="#1a1a1a" stroke-width="0.72" stroke-linejoin="round"/>
<polyline points="275.70,561.41 285.88,546.81 293.51,533.07 300.90,501.30" fill="none" stroke="#1a1a1a" stroke-width="0.72" stroke-linejoin="round"/>
<polyline points="275.70,561.41 285.88,548.53 293.51,533.93 302.42,501.30" fill="none" stroke="#1a1a1a" stroke-width="0.72" stroke-linejoin="round"/>
<polyline points="275.70,561.41 285.88,551.11 293.51,537.37 301.15,525.35 303.19,501.30" fill="none" stroke="#1a1a1a" stroke-width="0.72" stroke-linejoin="round"/>
<polyline points="275.70,561.41 285.88,552.83 293.51,544.24 301.15,528.78 307.51,501.30" fill="none" stroke="#1a1a1a" stroke-width="0.72" stroke-linejoin="round"/>
<polyline points="275.70,561.41 285.88,555.40 293.51,548.53 301.15,541.66 319.98,501.30" fill="none" stroke="#1a1a1a" stroke-width="0.72" stroke-linejoin="round"/>
<polyline points="275.70,561.41 285.88,552.83 290.97,544.24 296.06,531.36 302.42,514.18 304.97,501.30" fill="none" stroke="#1a1a1a" stroke-width="0.72" stroke-linejoin="round"/>
<polyline points="275.70,561.41 283.33,547.67 290.97,525.35 295.81,501.30" fill="none" stroke="#1a1a1a" stroke-width="0.72" stroke-linejoin="round"/>
<text x="347.50" y="464.00" font-size="5.9" text-anchor="middle" fill="#1a1a1a">1/10</text>
<text x="347.00" y="472.00" font-size="5.9" text-anchor="middle" fill="#1a1a1a">Injected</text>
<text x="346.60" y="478.80" font-size="5.9" text-anchor="middle" fill="#1a1a1a">OncoVEX<tspan font-size="4.01" dy="-2.36">mGM-CSF</tspan></text>
<text x="346.00" y="551.20" font-size="5.9" text-anchor="middle" fill="#1a1a1a">0/10</text>
<text x="345.50" y="559.20" font-size="5.9" text-anchor="middle" fill="#1a1a1a">Contralateral</text>
<text x="346.60" y="566.00" font-size="5.9" text-anchor="middle" fill="#1a1a1a">OncoVEX<tspan font-size="4.01" dy="-2.36">mGM-CSF</tspan></text>
<text x="330.20" y="583.20" font-size="5.8" text-anchor="middle" fill="#1a1a1a">Time (days)</text>
<line x1="404.50" y1="418.00" x2="404.50" y2="482.25" stroke="#1a1a1a" stroke-width="0.95" stroke-linecap="butt"/>
<line x1="402.10" y1="481.80" x2="404.50" y2="481.80" stroke="#1a1a1a" stroke-width="0.95" stroke-linecap="butt"/>
<text x="401.60" y="483.89" font-size="5.8" text-anchor="end" fill="#1a1a1a">0</text>
<line x1="402.10" y1="465.85" x2="404.50" y2="465.85" stroke="#1a1a1a" stroke-width="0.95" stroke-linecap="butt"/>
<text x="401.60" y="467.94" font-size="5.8" text-anchor="end" fill="#1a1a1a">200</text>
<line x1="402.10" y1="449.90" x2="404.50" y2="449.90" stroke="#1a1a1a" stroke-width="0.95" stroke-linecap="butt"/>
<text x="401.60" y="451.99" font-size="5.8" text-anchor="end" fill="#1a1a1a">400</text>
<line x1="402.10" y1="433.95" x2="404.50" y2="433.95" stroke="#1a1a1a" stroke-width="0.95" stroke-linecap="butt"/>
<text x="401.60" y="436.04" font-size="5.8" text-anchor="end" fill="#1a1a1a">600</text>
<line x1="402.10" y1="418.00" x2="404.50" y2="418.00" stroke="#1a1a1a" stroke-width="0.95" stroke-linecap="butt"/>
<text x="401.60" y="420.09" font-size="5.8" text-anchor="end" fill="#1a1a1a">800</text>
<line x1="403.18" y1="473.82" x2="404.50" y2="473.82" stroke="#1a1a1a" stroke-width="0.5" stroke-linecap="butt"/>
<line x1="403.18" y1="457.88" x2="404.50" y2="457.88" stroke="#1a1a1a" stroke-width="0.5" stroke-linecap="butt"/>
<line x1="403.18" y1="441.93" x2="404.50" y2="441.93" stroke="#1a1a1a" stroke-width="0.5" stroke-linecap="butt"/>
<line x1="403.18" y1="425.98" x2="404.50" y2="425.98" stroke="#1a1a1a" stroke-width="0.5" stroke-linecap="butt"/>
<line x1="404.05" y1="481.50" x2="502.80" y2="481.50" stroke="#1a1a1a" stroke-width="0.95" stroke-linecap="butt"/>
<line x1="404.00" y1="481.50" x2="404.00" y2="483.70" stroke="#1a1a1a" stroke-width="0.95" stroke-linecap="butt"/>
<text x="404.00" y="489.00" font-size="5.8" text-anchor="middle" fill="#1a1a1a">10</text>
<line x1="428.70" y1="481.50" x2="428.70" y2="483.70" stroke="#1a1a1a" stroke-width="0.95" stroke-linecap="butt"/>
<text x="428.70" y="489.00" font-size="5.8" text-anchor="middle" fill="#1a1a1a">20</text>
<line x1="453.40" y1="481.50" x2="453.40" y2="483.70" stroke="#1a1a1a" stroke-width="0.95" stroke-linecap="butt"/>
<text x="453.40" y="489.00" font-size="5.8" text-anchor="middle" fill="#1a1a1a">30</text>
<line x1="478.10" y1="481.50" x2="478.10" y2="483.70" stroke="#1a1a1a" stroke-width="0.95" stroke-linecap="butt"/>
<text x="478.10" y="489.00" font-size="5.8" text-anchor="middle" fill="#1a1a1a">40</text>
<line x1="502.80" y1="481.50" x2="502.80" y2="483.70" stroke="#1a1a1a" stroke-width="0.95" stroke-linecap="butt"/>
<text x="502.80" y="489.00" font-size="5.8" text-anchor="middle" fill="#1a1a1a">50</text>
<line x1="416.35" y1="481.50" x2="416.35" y2="482.71" stroke="#1a1a1a" stroke-width="0.5" stroke-linecap="butt"/>
<line x1="441.05" y1="481.50" x2="441.05" y2="482.71" stroke="#1a1a1a" stroke-width="0.5" stroke-linecap="butt"/>
<line x1="465.75" y1="481.50" x2="465.75" y2="482.71" stroke="#1a1a1a" stroke-width="0.5" stroke-linecap="butt"/>
<line x1="490.45" y1="481.50" x2="490.45" y2="482.71" stroke="#1a1a1a" stroke-width="0.5" stroke-linecap="butt"/>
<line x1="404.50" y1="501.40" x2="404.50" y2="569.85" stroke="#1a1a1a" stroke-width="0.95" stroke-linecap="butt"/>
<line x1="402.10" y1="569.40" x2="404.50" y2="569.40" stroke="#1a1a1a" stroke-width="0.95" stroke-linecap="butt"/>
<text x="401.60" y="571.49" font-size="5.8" text-anchor="end" fill="#1a1a1a">0</text>
<line x1="402.10" y1="552.40" x2="404.50" y2="552.40" stroke="#1a1a1a" stroke-width="0.95" stroke-linecap="butt"/>
<text x="401.60" y="554.49" font-size="5.8" text-anchor="end" fill="#1a1a1a">200</text>
<line x1="402.10" y1="535.40" x2="404.50" y2="535.40" stroke="#1a1a1a" stroke-width="0.95" stroke-linecap="butt"/>
<text x="401.60" y="537.49" font-size="5.8" text-anchor="end" fill="#1a1a1a">400</text>
<line x1="402.10" y1="518.40" x2="404.50" y2="518.40" stroke="#1a1a1a" stroke-width="0.95" stroke-linecap="butt"/>
<text x="401.60" y="520.49" font-size="5.8" text-anchor="end" fill="#1a1a1a">600</text>
<line x1="402.10" y1="501.40" x2="404.50" y2="501.40" stroke="#1a1a1a" stroke-width="0.95" stroke-linecap="butt"/>
<text x="401.60" y="503.49" font-size="5.8" text-anchor="end" fill="#1a1a1a">800</text>
<line x1="403.18" y1="560.90" x2="404.50" y2="560.90" stroke="#1a1a1a" stroke-width="0.5" stroke-linecap="butt"/>
<line x1="403.18" y1="543.90" x2="404.50" y2="543.90" stroke="#1a1a1a" stroke-width="0.5" stroke-linecap="butt"/>
<line x1="403.18" y1="526.90" x2="404.50" y2="526.90" stroke="#1a1a1a" stroke-width="0.5" stroke-linecap="butt"/>
<line x1="403.18" y1="509.90" x2="404.50" y2="509.90" stroke="#1a1a1a" stroke-width="0.5" stroke-linecap="butt"/>
<line x1="404.05" y1="569.50" x2="502.60" y2="569.50" stroke="#1a1a1a" stroke-width="0.95" stroke-linecap="butt"/>
<line x1="404.20" y1="569.50" x2="404.20" y2="571.70" stroke="#1a1a1a" stroke-width="0.95" stroke-linecap="butt"/>
<text x="404.20" y="577.00" font-size="5.8" text-anchor="middle" fill="#1a1a1a">10</text>
<line x1="428.80" y1="569.50" x2="428.80" y2="571.70" stroke="#1a1a1a" stroke-width="0.95" stroke-linecap="butt"/>
<text x="428.80" y="577.00" font-size="5.8" text-anchor="middle" fill="#1a1a1a">20</text>
<line x1="453.40" y1="569.50" x2="453.40" y2="571.70" stroke="#1a1a1a" stroke-width="0.95" stroke-linecap="butt"/>
<text x="453.40" y="577.00" font-size="5.8" text-anchor="middle" fill="#1a1a1a">30</text>
<line x1="478.00" y1="569.50" x2="478.00" y2="571.70" stroke="#1a1a1a" stroke-width="0.95" stroke-linecap="butt"/>
<text x="478.00" y="577.00" font-size="5.8" text-anchor="middle" fill="#1a1a1a">40</text>
<line x1="502.60" y1="569.50" x2="502.60" y2="571.70" stroke="#1a1a1a" stroke-width="0.95" stroke-linecap="butt"/>
<text x="502.60" y="577.00" font-size="5.8" text-anchor="middle" fill="#1a1a1a">50</text>
<line x1="416.50" y1="569.50" x2="416.50" y2="570.71" stroke="#1a1a1a" stroke-width="0.5" stroke-linecap="butt"/>
<line x1="441.10" y1="569.50" x2="441.10" y2="570.71" stroke="#1a1a1a" stroke-width="0.5" stroke-linecap="butt"/>
<line x1="465.70" y1="569.50" x2="465.70" y2="570.71" stroke="#1a1a1a" stroke-width="0.5" stroke-linecap="butt"/>
<line x1="490.30" y1="569.50" x2="490.30" y2="570.71" stroke="#1a1a1a" stroke-width="0.5" stroke-linecap="butt"/>
<polyline points="404.00,473.82 411.41,468.24 421.29,442.72 431.17,451.50 441.05,461.86 453.40,473.82 464.51,481.80" fill="none" stroke="#1a1a1a" stroke-width="0.62" stroke-linejoin="round"/>
<polyline points="404.00,474.62 411.41,469.04 421.29,450.70 428.70,452.29 438.58,457.08 450.93,469.84 460.81,479.41 470.69,480.20 478.10,481.80" fill="none" stroke="#1a1a1a" stroke-width="0.62" stroke-linejoin="round"/>
<polyline points="404.00,473.03 411.41,467.44 421.29,453.89 428.70,457.88 436.11,461.86 443.52,470.63 450.93,478.61 455.87,481.80" fill="none" stroke="#1a1a1a" stroke-width="0.62" stroke-linejoin="round"/>
<polyline points="404.00,473.82 411.41,469.84 421.29,455.48 428.70,461.86 438.58,467.44 445.99,475.42 453.40,481.80" fill="none" stroke="#1a1a1a" stroke-width="0.62" stroke-linejoin="round"/>
<polyline points="404.00,474.62 411.41,470.63 421.29,457.88 427.47,465.85 428.70,473.82 441.05,473.82 448.46,478.61 453.40,481.80" fill="none" stroke="#1a1a1a" stroke-width="0.62" stroke-linejoin="round"/>
<polyline points="404.00,473.82 411.41,468.24 421.29,459.47 428.70,456.28 433.64,461.06 441.05,469.04 450.93,479.41 454.63,481.80" fill="none" stroke="#1a1a1a" stroke-width="0.62" stroke-linejoin="round"/>
<polyline points="404.00,473.03 411.41,469.84 421.29,461.86 428.70,467.44 436.11,465.05 443.52,473.82 453.40,481.80" fill="none" stroke="#1a1a1a" stroke-width="0.62" stroke-linejoin="round"/>
<polyline points="404.00,473.82 411.41,471.43 421.29,464.25 428.70,460.27 438.58,469.84 448.46,478.61 453.40,481.80" fill="none" stroke="#1a1a1a" stroke-width="0.62" stroke-linejoin="round"/>
<polyline points="404.00,474.62 411.41,469.84 421.29,457.08 426.23,459.47 431.17,469.84 441.05,474.62 448.46,480.20 455.87,481.80" fill="none" stroke="#1a1a1a" stroke-width="0.62" stroke-linejoin="round"/>
<polyline points="404.00,473.82 411.41,469.04 421.29,461.06 428.70,465.85 438.58,472.23 445.99,477.01 450.93,481.80" fill="none" stroke="#1a1a1a" stroke-width="0.62" stroke-linejoin="round"/>
<polyline points="404.20,560.90 411.58,552.40 421.17,515.85 428.31,556.48 442.58,556.48 453.40,569.40" fill="none" stroke="#1a1a1a" stroke-width="0.62" stroke-linejoin="round"/>
<polyline points="404.20,560.90 416.50,548.15 421.42,539.65 428.80,535.40 438.89,520.10 446.02,548.15 453.40,560.90 463.24,569.40" fill="none" stroke="#1a1a1a" stroke-width="0.62" stroke-linejoin="round"/>
<polyline points="404.20,560.90 416.50,548.15 421.42,530.30 428.80,528.60 433.72,533.70 441.10,543.90 448.48,556.65 458.32,565.15 468.16,569.40" fill="none" stroke="#1a1a1a" stroke-width="0.62" stroke-linejoin="round"/>
<polyline points="404.20,560.90 411.58,552.40 421.42,532.00 428.80,529.45 438.64,535.40 447.74,528.17 453.40,543.90 463.24,556.65 473.08,564.30 478.00,569.40" fill="none" stroke="#1a1a1a" stroke-width="0.62" stroke-linejoin="round"/>
<polyline points="404.20,560.90 411.58,554.10 421.42,539.65 428.80,535.40 438.64,541.35 446.02,543.90 453.40,542.20 467.42,543.90 474.56,543.05 480.71,528.17 487.84,501.40" fill="none" stroke="#1a1a1a" stroke-width="0.62" stroke-linejoin="round"/>
<polyline points="404.20,560.90 414.04,549.85 421.42,543.90 428.80,539.65 438.64,552.40 453.40,560.90 474.31,564.30 492.76,564.30" fill="none" stroke="#1a1a1a" stroke-width="0.62" stroke-linejoin="round"/>
<polyline points="404.20,560.90 411.58,554.10 421.42,547.30 428.80,545.60 433.72,552.40 443.56,556.65 453.40,562.60 465.70,565.15 478.00,567.70 482.92,569.40" fill="none" stroke="#1a1a1a" stroke-width="0.62" stroke-linejoin="round"/>
<polyline points="404.20,560.90 411.58,552.40 421.42,535.40 426.34,532.85 431.26,537.10 441.10,556.65 450.94,566.85 453.40,569.40" fill="none" stroke="#1a1a1a" stroke-width="0.62" stroke-linejoin="round"/>
<polyline points="404.20,560.90 414.04,552.40 421.42,531.15 428.80,545.60 438.64,556.65 446.02,562.60 455.86,569.40" fill="none" stroke="#1a1a1a" stroke-width="0.62" stroke-linejoin="round"/>
<polyline points="404.20,560.90 414.04,554.10 421.42,537.10 428.80,537.95 438.64,548.15 448.48,559.20 458.32,564.30 468.16,566.00 473.57,561.24 481.20,532.85 488.33,501.40" fill="none" stroke="#1a1a1a" stroke-width="0.62" stroke-linejoin="round"/>
<text x="482.80" y="455.80" font-size="5.9" text-anchor="middle" fill="#1a1a1a">10/10</text>
<text x="482.30" y="463.60" font-size="5.9" text-anchor="middle" fill="#1a1a1a">Injected</text>
<text x="483.00" y="469.20" font-size="5.9" text-anchor="middle" fill="#1a1a1a">Combination</text>
<text x="461.90" y="504.00" font-size="5.9" text-anchor="middle" fill="#1a1a1a">6/10</text>
<text x="461.70" y="511.80" font-size="5.9" text-anchor="middle" fill="#1a1a1a">Contralateral</text>
<text x="462.50" y="518.40" font-size="5.9" text-anchor="middle" fill="#1a1a1a">Combination</text>
<text x="457.60" y="583.20" font-size="5.8" text-anchor="middle" fill="#1a1a1a">Time (days)</text>
<text transform="translate(0.30 592.70) scale(0.93 1)" font-size="14.2" font-weight="bold" fill="#111" style="stroke:#111;stroke-width:0.35px">K</text>
<line x1="20.50" y1="592.00" x2="20.50" y2="663.45" stroke="#1a1a1a" stroke-width="0.95" stroke-linecap="butt"/>
<line x1="17.90" y1="663.00" x2="20.50" y2="663.00" stroke="#1a1a1a" stroke-width="0.95" stroke-linecap="butt"/>
<text x="17.30" y="664.94" font-size="5.4" text-anchor="end" fill="#1a1a1a">0</text>
<line x1="17.90" y1="630.75" x2="20.50" y2="630.75" stroke="#1a1a1a" stroke-width="0.95" stroke-linecap="butt"/>
<text x="17.30" y="632.69" font-size="5.4" text-anchor="end" fill="#1a1a1a">50</text>
<line x1="17.90" y1="598.50" x2="20.50" y2="598.50" stroke="#1a1a1a" stroke-width="0.95" stroke-linecap="butt"/>
<text x="17.30" y="600.44" font-size="5.4" text-anchor="end" fill="#1a1a1a">100</text>
<line x1="20.05" y1="663.50" x2="120.80" y2="663.50" stroke="#1a1a1a" stroke-width="0.95" stroke-linecap="butt"/>
<line x1="20.30" y1="663.50" x2="20.30" y2="666.10" stroke="#1a1a1a" stroke-width="0.95" stroke-linecap="butt"/>
<text x="20.30" y="670.90" font-size="5.2" text-anchor="middle" fill="#1a1a1a">0</text>
<line x1="37.05" y1="663.50" x2="37.05" y2="666.10" stroke="#1a1a1a" stroke-width="0.95" stroke-linecap="butt"/>
<text x="37.05" y="670.90" font-size="5.2" text-anchor="middle" fill="#1a1a1a">10</text>
<line x1="53.80" y1="663.50" x2="53.80" y2="666.10" stroke="#1a1a1a" stroke-width="0.95" stroke-linecap="butt"/>
<text x="53.80" y="670.90" font-size="5.2" text-anchor="middle" fill="#1a1a1a">20</text>
<line x1="70.55" y1="663.50" x2="70.55" y2="666.10" stroke="#1a1a1a" stroke-width="0.95" stroke-linecap="butt"/>
<text x="70.55" y="670.90" font-size="5.2" text-anchor="middle" fill="#1a1a1a">30</text>
<line x1="87.30" y1="663.50" x2="87.30" y2="666.10" stroke="#1a1a1a" stroke-width="0.95" stroke-linecap="butt"/>
<text x="87.30" y="670.90" font-size="5.2" text-anchor="middle" fill="#1a1a1a">40</text>
<line x1="104.05" y1="663.50" x2="104.05" y2="666.10" stroke="#1a1a1a" stroke-width="0.95" stroke-linecap="butt"/>
<text x="104.05" y="670.90" font-size="5.2" text-anchor="middle" fill="#1a1a1a">50</text>
<line x1="120.80" y1="663.50" x2="120.80" y2="666.10" stroke="#1a1a1a" stroke-width="0.95" stroke-linecap="butt"/>
<text x="120.80" y="670.90" font-size="5.2" text-anchor="middle" fill="#1a1a1a">60</text>
<line x1="28.68" y1="663.50" x2="28.68" y2="664.93" stroke="#1a1a1a" stroke-width="0.5" stroke-linecap="butt"/>
<line x1="45.42" y1="663.50" x2="45.42" y2="664.93" stroke="#1a1a1a" stroke-width="0.5" stroke-linecap="butt"/>
<line x1="62.17" y1="663.50" x2="62.17" y2="664.93" stroke="#1a1a1a" stroke-width="0.5" stroke-linecap="butt"/>
<line x1="78.92" y1="663.50" x2="78.92" y2="664.93" stroke="#1a1a1a" stroke-width="0.5" stroke-linecap="butt"/>
<line x1="95.67" y1="663.50" x2="95.67" y2="664.93" stroke="#1a1a1a" stroke-width="0.5" stroke-linecap="butt"/>
<line x1="112.42" y1="663.50" x2="112.42" y2="664.93" stroke="#1a1a1a" stroke-width="0.5" stroke-linecap="butt"/>
<text x="6.20" y="632.30" font-size="5.5" text-anchor="middle" transform="rotate(-90 6.20 632.30)" fill="#1a1a1a">Percent survival</text>
<text x="71.40" y="677.80" font-size="5.8" text-anchor="middle" fill="#1a1a1a">Time (days)</text>
<polyline points="20.30,598.50 53.80,598.50" fill="none" stroke="#1a1a1a" stroke-width="1.5" stroke-linejoin="round"/>
<polyline points="53.80,598.50 96.68,598.50 96.68,611.40 103.05,611.40" fill="none" stroke="#1a1a1a" stroke-width="1.2" stroke-linejoin="round" stroke-dasharray="2.6,1.2,0.8,1.2"/>
<polyline points="48.61,598.50 48.61,611.40 53.80,611.40 53.80,663.00" fill="none" stroke="#1a1a1a" stroke-width="1.3" stroke-linejoin="round"/>
<polyline points="54.81,598.50 54.81,630.75 60.08,630.75 60.08,656.55 65.36,656.55 65.36,663.00" fill="none" stroke="#1a1a1a" stroke-width="1.5" stroke-linejoin="round" stroke-dasharray="2.2,1.2"/>
<polyline points="37.05,598.50 37.05,604.95 49.11,604.95 49.11,617.85 52.80,617.85 54.81,624.30 77.92,624.30 77.92,630.75 88.31,630.75 88.31,650.10 103.05,650.10" fill="none" stroke="#1a1a1a" stroke-width="1.0" stroke-linejoin="round" stroke-dasharray="1.2,1.1"/>
<line x1="22.70" y1="684.40" x2="30.50" y2="684.40" stroke="#1a1a1a" stroke-width="1.4" stroke-linecap="butt"/>
<text x="31.60" y="686.70" font-size="5.6" text-anchor="start" fill="#1a1a1a">Vehicle</text>
<line x1="57.00" y1="684.40" x2="65.90" y2="684.40" stroke="#1a1a1a" stroke-width="1.0" stroke-dasharray="1.2,1.1" stroke-linecap="butt"/>
<text x="67.00" y="686.70" font-size="5.6" text-anchor="start" fill="#1a1a1a">CTLA-4</text>
<line x1="94.40" y1="684.40" x2="100.70" y2="684.40" stroke="#1a1a1a" stroke-width="1.2" stroke-dasharray="2.6,1.4,0.8,1.4" stroke-linecap="butt"/>
<text x="103.00" y="686.70" font-size="5.6" text-anchor="start" fill="#1a1a1a">Combo</text>
<line x1="22.70" y1="691.60" x2="30.50" y2="691.60" stroke="#1a1a1a" stroke-width="1.5" stroke-dasharray="2.2,1.5" stroke-linecap="butt"/>
<text x="34.50" y="693.90" font-size="5.6" text-anchor="start" fill="#1a1a1a">OncoVEX<tspan font-size="3.81" dy="-2.24">mGM-CSF</tspan><tspan dy="2.24"> 5 x 10</tspan><tspan font-size="3.6" dy="-2.2">6</tspan><tspan dy="2.2"> PFU</tspan></text>
<text x="20.80" y="701.00" font-size="5.6" text-anchor="start" fill="#1a1a1a">Combo vs. OncoVEX<tspan font-size="3.81" dy="-2.24">mGM-CSF</tspan><tspan dy="2.24"> </tspan><tspan font-style="italic">P</tspan> = 0.0001</text>
<text x="20.80" y="708.20" font-size="5.6" text-anchor="start" fill="#1a1a1a">Combo vs. αCTLA-4 <tspan font-style="italic">P</tspan> = 0.0115</text>
<defs>
<pattern id="hd" patternUnits="userSpaceOnUse" width="2.4" height="2.4" patternTransform="rotate(-45)"><rect width="2.4" height="2.4" fill="#fff"/><rect width="0.9" height="2.4" fill="#222"/></pattern>
<pattern id="hh" patternUnits="userSpaceOnUse" width="4" height="1.6"><rect width="4" height="1.6" fill="#e6e6e6"/><rect width="4" height="0.55" fill="#777"/></pattern>
</defs>
<text transform="translate(117.90 593.10) scale(0.93 1)" font-size="14.2" font-weight="bold" fill="#111" style="stroke:#111;stroke-width:0.35px">L</text>
<line x1="149.50" y1="594.90" x2="149.50" y2="663.85" stroke="#1a1a1a" stroke-width="0.95" stroke-linecap="butt"/>
<line x1="147.10" y1="663.40" x2="149.50" y2="663.40" stroke="#1a1a1a" stroke-width="0.95" stroke-linecap="butt"/>
<text x="146.60" y="665.42" font-size="5.6" text-anchor="end" fill="#1a1a1a">0</text>
<line x1="147.10" y1="649.70" x2="149.50" y2="649.70" stroke="#1a1a1a" stroke-width="0.95" stroke-linecap="butt"/>
<text x="146.60" y="651.72" font-size="5.6" text-anchor="end" fill="#1a1a1a">200</text>
<line x1="147.10" y1="636.00" x2="149.50" y2="636.00" stroke="#1a1a1a" stroke-width="0.95" stroke-linecap="butt"/>
<text x="146.60" y="638.02" font-size="5.6" text-anchor="end" fill="#1a1a1a">400</text>
<line x1="147.10" y1="622.30" x2="149.50" y2="622.30" stroke="#1a1a1a" stroke-width="0.95" stroke-linecap="butt"/>
<text x="146.60" y="624.32" font-size="5.6" text-anchor="end" fill="#1a1a1a">600</text>
<line x1="147.10" y1="608.60" x2="149.50" y2="608.60" stroke="#1a1a1a" stroke-width="0.95" stroke-linecap="butt"/>
<text x="146.60" y="610.62" font-size="5.6" text-anchor="end" fill="#1a1a1a">800</text>
<line x1="147.10" y1="594.90" x2="149.50" y2="594.90" stroke="#1a1a1a" stroke-width="0.95" stroke-linecap="butt"/>
<text x="146.60" y="596.92" font-size="5.6" text-anchor="end" fill="#1a1a1a">1,000</text>
<line x1="149.40" y1="663.40" x2="252.50" y2="663.40" stroke="#1a1a1a" stroke-width="0.9" stroke-linecap="butt"/>
<line x1="166.00" y1="663.40" x2="166.00" y2="665.20" stroke="#1a1a1a" stroke-width="0.6" stroke-linecap="butt"/>
<line x1="199.50" y1="663.40" x2="199.50" y2="665.20" stroke="#1a1a1a" stroke-width="0.6" stroke-linecap="butt"/>
<line x1="233.80" y1="663.40" x2="233.80" y2="665.20" stroke="#1a1a1a" stroke-width="0.6" stroke-linecap="butt"/>
<text x="165.80" y="671.20" font-size="5.7" text-anchor="middle" fill="#1a1a1a">No peptide</text>
<text x="200.90" y="671.20" font-size="5.7" text-anchor="middle" fill="#1a1a1a">GFP</text>
<text x="234.30" y="671.20" font-size="5.7" text-anchor="middle" fill="#1a1a1a">AH1</text>
<text x="131.00" y="626.60" font-size="5.6" text-anchor="middle" transform="rotate(-90 131.00 626.60)" fill="#1a1a1a">IFNγ spots/800K splenocytes</text>
<ellipse cx="161.10" cy="663.00" rx="1.60" ry="0.8" fill="#333"/>
<ellipse cx="177.60" cy="663.00" rx="1.60" ry="0.8" fill="#333"/>
<ellipse cx="197.10" cy="663.00" rx="1.60" ry="0.8" fill="#333"/>
<ellipse cx="212.10" cy="663.00" rx="1.60" ry="0.8" fill="#333"/>
<rect x="221.90" y="661.00" width="4.70" height="2.40" fill="#1a1a1a"/>
<rect x="228.60" y="636.30" width="5.80" height="27.10" fill="url(#hd)" stroke="#1a1a1a" stroke-width="0.7"/>
<line x1="231.50" y1="636.30" x2="231.50" y2="628.80" stroke="#1a1a1a" stroke-width="0.7" stroke-linecap="butt"/>
<line x1="230.05" y1="628.80" x2="232.95" y2="628.80" stroke="#1a1a1a" stroke-width="0.7" stroke-linecap="butt"/>
<rect x="236.10" y="619.30" width="5.60" height="44.10" fill="#fff" stroke="#1a1a1a" stroke-width="0.7"/>
<line x1="238.90" y1="619.30" x2="238.90" y2="608.40" stroke="#1a1a1a" stroke-width="0.7" stroke-linecap="butt"/>
<line x1="237.50" y1="608.40" x2="240.30" y2="608.40" stroke="#1a1a1a" stroke-width="0.7" stroke-linecap="butt"/>
<rect x="243.20" y="609.50" width="5.50" height="53.90" fill="url(#hh)" stroke="#1a1a1a" stroke-width="0.7"/>
<line x1="245.95" y1="609.50" x2="245.95" y2="602.80" stroke="#1a1a1a" stroke-width="0.7" stroke-linecap="butt"/>
<line x1="244.57" y1="602.80" x2="247.32" y2="602.80" stroke="#1a1a1a" stroke-width="0.7" stroke-linecap="butt"/>
<line x1="223.30" y1="625.30" x2="231.40" y2="625.30" stroke="#1a1a1a" stroke-width="0.6" stroke-linecap="butt"/>
<line x1="223.30" y1="624.30" x2="223.30" y2="626.30" stroke="#1a1a1a" stroke-width="0.6" stroke-linecap="butt"/>
<line x1="231.40" y1="624.30" x2="231.40" y2="626.30" stroke="#1a1a1a" stroke-width="0.6" stroke-linecap="butt"/>
<text x="227.35" y="625.00" font-size="4.8" text-anchor="middle" fill="#1a1a1a">**</text>
<line x1="223.30" y1="604.20" x2="238.80" y2="604.20" stroke="#1a1a1a" stroke-width="0.6" stroke-linecap="butt"/>
<line x1="223.30" y1="603.20" x2="223.30" y2="605.20" stroke="#1a1a1a" stroke-width="0.6" stroke-linecap="butt"/>
<line x1="238.80" y1="603.20" x2="238.80" y2="605.20" stroke="#1a1a1a" stroke-width="0.6" stroke-linecap="butt"/>
<text x="231.05" y="604.00" font-size="4.8" text-anchor="middle" fill="#1a1a1a">*</text>
<line x1="237.60" y1="597.60" x2="246.90" y2="597.60" stroke="#1a1a1a" stroke-width="0.6" stroke-linecap="butt"/>
<line x1="237.60" y1="596.60" x2="237.60" y2="598.60" stroke="#1a1a1a" stroke-width="0.6" stroke-linecap="butt"/>
<line x1="246.90" y1="596.60" x2="246.90" y2="598.60" stroke="#1a1a1a" stroke-width="0.6" stroke-linecap="butt"/>
<text x="242.25" y="596.70" font-size="3.9" text-anchor="middle" fill="#1a1a1a">n.s.</text>
<line x1="232.10" y1="591.10" x2="247.50" y2="591.10" stroke="#1a1a1a" stroke-width="0.6" stroke-linecap="butt"/>
<line x1="232.10" y1="590.10" x2="232.10" y2="592.10" stroke="#1a1a1a" stroke-width="0.6" stroke-linecap="butt"/>
<line x1="247.50" y1="590.10" x2="247.50" y2="592.10" stroke="#1a1a1a" stroke-width="0.6" stroke-linecap="butt"/>
<text x="239.80" y="590.20" font-size="3.9" text-anchor="middle" fill="#1a1a1a">n.s.</text>
<rect x="152.80" y="599.60" width="7.90" height="3.50" fill="#1a1a1a"/>
<rect x="152.80" y="605.00" width="7.90" height="3.10" fill="url(#hd)" stroke="#1a1a1a" stroke-width="0.6"/>
<rect x="152.80" y="610.40" width="7.90" height="3.30" fill="#fff" stroke="#1a1a1a" stroke-width="0.6"/>
<rect x="152.80" y="616.10" width="7.90" height="3.30" fill="url(#hh)" stroke="#1a1a1a" stroke-width="0.6"/>
<text x="162.00" y="603.40" font-size="5.95" text-anchor="start" fill="#1a1a1a">Vehicle</text>
<text x="162.00" y="608.90" font-size="5.95" text-anchor="start" fill="#1a1a1a">OncoVEX<tspan font-size="4.05" dy="-2.38">mGM-CSF</tspan></text>
<text x="162.00" y="614.40" font-size="5.95" text-anchor="start" fill="#1a1a1a">CTLA-4</text>
<text x="162.00" y="620.00" font-size="5.95" text-anchor="start" fill="#1a1a1a">Combo</text>
<text transform="translate(257.90 593.00) scale(0.93 1)" font-size="14.2" font-weight="bold" fill="#111" style="stroke:#111;stroke-width:0.35px">M</text>
<line x1="276.50" y1="599.20" x2="276.50" y2="664.15" stroke="#1a1a1a" stroke-width="0.95" stroke-linecap="butt"/>
<line x1="273.50" y1="663.70" x2="276.50" y2="663.70" stroke="#1a1a1a" stroke-width="0.95" stroke-linecap="butt"/>
<text x="272.80" y="665.79" font-size="5.8" text-anchor="end" fill="#1a1a1a">0</text>
<line x1="273.50" y1="647.58" x2="276.50" y2="647.58" stroke="#1a1a1a" stroke-width="0.95" stroke-linecap="butt"/>
<text x="272.80" y="649.66" font-size="5.8" text-anchor="end" fill="#1a1a1a">1</text>
<line x1="273.50" y1="631.45" x2="276.50" y2="631.45" stroke="#1a1a1a" stroke-width="0.95" stroke-linecap="butt"/>
<text x="272.80" y="633.54" font-size="5.8" text-anchor="end" fill="#1a1a1a">2</text>
<line x1="273.50" y1="615.33" x2="276.50" y2="615.33" stroke="#1a1a1a" stroke-width="0.95" stroke-linecap="butt"/>
<text x="272.80" y="617.41" font-size="5.8" text-anchor="end" fill="#1a1a1a">3</text>
<line x1="273.50" y1="599.20" x2="276.50" y2="599.20" stroke="#1a1a1a" stroke-width="0.95" stroke-linecap="butt"/>
<text x="272.80" y="601.29" font-size="5.8" text-anchor="end" fill="#1a1a1a">4</text>
<line x1="276.20" y1="663.70" x2="375.60" y2="663.70" stroke="#1a1a1a" stroke-width="0.75" stroke-linecap="butt"/>
<text x="266.30" y="631.00" font-size="5.2" text-anchor="middle" transform="rotate(-90 266.30 631.00)" fill="#1a1a1a">% CD8 AH1+ cells (spleen)</text>
<rect x="280.30" y="658.80" width="17.30" height="4.90" fill="#1a1a1a"/>
<line x1="288.95" y1="658.80" x2="288.95" y2="657.90" stroke="#1a1a1a" stroke-width="0.7" stroke-linecap="butt"/>
<line x1="287.00" y1="657.90" x2="291.00" y2="657.90" stroke="#1a1a1a" stroke-width="0.7" stroke-linecap="butt"/>
<rect x="304.50" y="654.20" width="18.30" height="9.50" fill="url(#hd)" stroke="#1a1a1a" stroke-width="0.7"/>
<line x1="313.65" y1="654.20" x2="313.65" y2="652.30" stroke="#1a1a1a" stroke-width="0.7" stroke-linecap="butt"/>
<line x1="311.65" y1="652.30" x2="315.65" y2="652.30" stroke="#1a1a1a" stroke-width="0.7" stroke-linecap="butt"/>
<rect x="330.40" y="638.50" width="17.30" height="25.20" fill="#fff" stroke="#1a1a1a" stroke-width="0.7"/>
<line x1="339.05" y1="638.50" x2="339.05" y2="632.20" stroke="#1a1a1a" stroke-width="0.7" stroke-linecap="butt"/>
<line x1="337.05" y1="632.20" x2="341.05" y2="632.20" stroke="#1a1a1a" stroke-width="0.7" stroke-linecap="butt"/>
<rect x="356.50" y="623.00" width="17.70" height="40.70" fill="url(#hh)" stroke="#1a1a1a" stroke-width="0.7"/>
<line x1="365.35" y1="623.00" x2="365.35" y2="612.40" stroke="#1a1a1a" stroke-width="0.7" stroke-linecap="butt"/>
<line x1="363.35" y1="612.40" x2="367.35" y2="612.40" stroke="#1a1a1a" stroke-width="0.7" stroke-linecap="butt"/>
<line x1="285.40" y1="646.10" x2="314.20" y2="646.10" stroke="#1a1a1a" stroke-width="0.6" stroke-linecap="butt"/>
<line x1="285.40" y1="645.10" x2="285.40" y2="647.10" stroke="#1a1a1a" stroke-width="0.6" stroke-linecap="butt"/>
<line x1="314.20" y1="645.10" x2="314.20" y2="647.10" stroke="#1a1a1a" stroke-width="0.6" stroke-linecap="butt"/>
<text x="299.80" y="646.40" font-size="5.2" text-anchor="middle" fill="#1a1a1a">***</text>
<line x1="285.40" y1="626.50" x2="339.60" y2="626.50" stroke="#1a1a1a" stroke-width="0.6" stroke-linecap="butt"/>
<line x1="285.40" y1="625.50" x2="285.40" y2="627.50" stroke="#1a1a1a" stroke-width="0.6" stroke-linecap="butt"/>
<line x1="339.60" y1="625.50" x2="339.60" y2="627.50" stroke="#1a1a1a" stroke-width="0.6" stroke-linecap="butt"/>
<text x="312.50" y="626.40" font-size="5.2" text-anchor="middle" fill="#1a1a1a">**</text>
<line x1="312.60" y1="598.50" x2="365.70" y2="598.50" stroke="#1a1a1a" stroke-width="0.6" stroke-linecap="butt"/>
<line x1="312.60" y1="597.50" x2="312.60" y2="599.50" stroke="#1a1a1a" stroke-width="0.6" stroke-linecap="butt"/>
<line x1="365.70" y1="597.50" x2="365.70" y2="599.50" stroke="#1a1a1a" stroke-width="0.6" stroke-linecap="butt"/>
<text x="339.15" y="598.40" font-size="5.2" text-anchor="middle" fill="#1a1a1a">**</text>
<line x1="336.20" y1="608.00" x2="365.70" y2="608.00" stroke="#1a1a1a" stroke-width="0.6" stroke-linecap="butt"/>
<line x1="336.20" y1="607.00" x2="336.20" y2="609.00" stroke="#1a1a1a" stroke-width="0.6" stroke-linecap="butt"/>
<line x1="365.70" y1="607.00" x2="365.70" y2="609.00" stroke="#1a1a1a" stroke-width="0.6" stroke-linecap="butt"/>
<text x="350.95" y="606.60" font-size="4.1" text-anchor="middle" fill="#1a1a1a">n.s (<tspan font-style="italic">P</tspan> = 0.11)</text>
<text x="289.20" y="671.00" font-size="5.7" text-anchor="middle" fill="#1a1a1a">Vehicle</text>
<text x="314.50" y="671.00" font-size="5.7" text-anchor="middle" fill="#1a1a1a">Onco</text>
<text x="315.50" y="677.20" font-size="5.7" text-anchor="middle" fill="#1a1a1a">Vex<tspan font-size="3.88" dy="-2.28">mGM-CSF</tspan></text>
<text x="338.00" y="671.00" font-size="5.7" text-anchor="middle" fill="#1a1a1a">CTLA-4</text>
<text x="365.40" y="671.00" font-size="5.7" text-anchor="middle" fill="#1a1a1a">Combo</text>
<text transform="translate(382.10 593.70) scale(0.93 1)" font-size="14.2" font-weight="bold" fill="#111" style="stroke:#111;stroke-width:0.35px">N</text>
<line x1="404.50" y1="593.40" x2="404.50" y2="663.85" stroke="#1a1a1a" stroke-width="0.95" stroke-linecap="butt"/>
<line x1="401.70" y1="663.40" x2="404.50" y2="663.40" stroke="#1a1a1a" stroke-width="0.95" stroke-linecap="butt"/>
<text x="401.10" y="665.45" font-size="5.7" text-anchor="end" fill="#1a1a1a">0</text>
<line x1="401.70" y1="645.90" x2="404.50" y2="645.90" stroke="#1a1a1a" stroke-width="0.95" stroke-linecap="butt"/>
<text x="401.10" y="647.95" font-size="5.7" text-anchor="end" fill="#1a1a1a">10</text>
<line x1="401.70" y1="628.40" x2="404.50" y2="628.40" stroke="#1a1a1a" stroke-width="0.95" stroke-linecap="butt"/>
<text x="401.10" y="630.45" font-size="5.7" text-anchor="end" fill="#1a1a1a">20</text>
<line x1="401.70" y1="610.90" x2="404.50" y2="610.90" stroke="#1a1a1a" stroke-width="0.95" stroke-linecap="butt"/>
<text x="401.10" y="612.95" font-size="5.7" text-anchor="end" fill="#1a1a1a">30</text>
<line x1="401.70" y1="593.40" x2="404.50" y2="593.40" stroke="#1a1a1a" stroke-width="0.95" stroke-linecap="butt"/>
<text x="401.10" y="595.45" font-size="5.7" text-anchor="end" fill="#1a1a1a">40</text>
<line x1="502.50" y1="593.40" x2="502.50" y2="663.85" stroke="#1a1a1a" stroke-width="0.95" stroke-linecap="butt"/>
<line x1="502.50" y1="663.40" x2="505.30" y2="663.40" stroke="#1a1a1a" stroke-width="0.95" stroke-linecap="butt"/>
<text x="505.90" y="665.45" font-size="5.7" text-anchor="start" fill="#1a1a1a">0</text>
<line x1="502.50" y1="645.90" x2="505.30" y2="645.90" stroke="#1a1a1a" stroke-width="0.95" stroke-linecap="butt"/>
<text x="505.90" y="647.95" font-size="5.7" text-anchor="start" fill="#1a1a1a">10</text>
<line x1="502.50" y1="628.40" x2="505.30" y2="628.40" stroke="#1a1a1a" stroke-width="0.95" stroke-linecap="butt"/>
<text x="505.90" y="630.45" font-size="5.7" text-anchor="start" fill="#1a1a1a">20</text>
<line x1="502.50" y1="610.90" x2="505.30" y2="610.90" stroke="#1a1a1a" stroke-width="0.95" stroke-linecap="butt"/>
<text x="505.90" y="612.95" font-size="5.7" text-anchor="start" fill="#1a1a1a">30</text>
<line x1="502.50" y1="593.40" x2="505.30" y2="593.40" stroke="#1a1a1a" stroke-width="0.95" stroke-linecap="butt"/>
<text x="505.90" y="595.45" font-size="5.7" text-anchor="start" fill="#1a1a1a">40</text>
<line x1="404.80" y1="663.40" x2="502.50" y2="663.40" stroke="#1a1a1a" stroke-width="0.75" stroke-linecap="butt"/>
<text x="393.40" y="629.00" font-size="5.7" text-anchor="middle" transform="rotate(-90 393.40 629.00)" fill="#1a1a1a">% CD8 AH1<tspan font-size="4.0" dy="-2.2">+</tspan><tspan dy="2.2"> (Tumor)</tspan></text>
<text x="514.40" y="630.30" font-size="5.6" text-anchor="middle" transform="rotate(90 514.40 630.30)" fill="#1a1a1a">% Treg (Tumor)</text>
<rect x="409.60" y="637.30" width="6.70" height="26.10" fill="#1a1a1a"/>
<line x1="412.95" y1="637.30" x2="412.95" y2="631.10" stroke="#1a1a1a" stroke-width="0.7" stroke-linecap="butt"/>
<line x1="411.28" y1="631.10" x2="414.63" y2="631.10" stroke="#1a1a1a" stroke-width="0.7" stroke-linecap="butt"/>
<rect x="418.50" y="604.20" width="6.70" height="59.20" fill="#fff" stroke="#1a1a1a" stroke-width="0.7"/>
<line x1="421.85" y1="604.20" x2="421.85" y2="597.40" stroke="#1a1a1a" stroke-width="0.7" stroke-linecap="butt"/>
<line x1="420.18" y1="597.40" x2="423.53" y2="597.40" stroke="#1a1a1a" stroke-width="0.7" stroke-linecap="butt"/>
<rect x="433.30" y="641.90" width="6.50" height="21.50" fill="#1a1a1a"/>
<line x1="436.55" y1="641.90" x2="436.55" y2="637.30" stroke="#1a1a1a" stroke-width="0.7" stroke-linecap="butt"/>
<line x1="434.93" y1="637.30" x2="438.18" y2="637.30" stroke="#1a1a1a" stroke-width="0.7" stroke-linecap="butt"/>
<rect x="442.50" y="640.00" width="7.00" height="23.40" fill="#fff" stroke="#1a1a1a" stroke-width="0.7"/>
<line x1="446.00" y1="640.00" x2="446.00" y2="639.30" stroke="#1a1a1a" stroke-width="0.7" stroke-linecap="butt"/>
<line x1="444.25" y1="639.30" x2="447.75" y2="639.30" stroke="#1a1a1a" stroke-width="0.7" stroke-linecap="butt"/>
<rect x="458.10" y="634.30" width="6.20" height="29.10" fill="#1a1a1a"/>
<line x1="461.20" y1="634.30" x2="461.20" y2="625.70" stroke="#1a1a1a" stroke-width="0.7" stroke-linecap="butt"/>
<line x1="459.65" y1="625.70" x2="462.75" y2="625.70" stroke="#1a1a1a" stroke-width="0.7" stroke-linecap="butt"/>
<rect x="466.70" y="649.40" width="6.70" height="14.00" fill="#fff" stroke="#1a1a1a" stroke-width="0.7"/>
<line x1="470.05" y1="649.40" x2="470.05" y2="647.20" stroke="#1a1a1a" stroke-width="0.7" stroke-linecap="butt"/>
<line x1="468.37" y1="647.20" x2="471.72" y2="647.20" stroke="#1a1a1a" stroke-width="0.7" stroke-linecap="butt"/>
<rect x="482.30" y="613.60" width="6.70" height="49.80" fill="#1a1a1a"/>
<line x1="485.65" y1="613.60" x2="485.65" y2="603.60" stroke="#1a1a1a" stroke-width="0.7" stroke-linecap="butt"/>
<line x1="483.97" y1="603.60" x2="487.32" y2="603.60" stroke="#1a1a1a" stroke-width="0.7" stroke-linecap="butt"/>
<rect x="491.50" y="657.50" width="7.00" height="5.90" fill="#fff" stroke="#1a1a1a" stroke-width="0.7"/>
<line x1="495.00" y1="657.50" x2="495.00" y2="655.30" stroke="#1a1a1a" stroke-width="0.7" stroke-linecap="butt"/>
<line x1="493.25" y1="655.30" x2="496.75" y2="655.30" stroke="#1a1a1a" stroke-width="0.7" stroke-linecap="butt"/>
<text x="446.00" y="638.60" font-size="5.0" text-anchor="middle" fill="#1a1a1a">**</text>
<text x="470.00" y="647.00" font-size="5.0" text-anchor="middle" fill="#1a1a1a">*</text>
<text x="485.70" y="601.80" font-size="5.0" text-anchor="middle" fill="#1a1a1a">***</text>
<text x="495.00" y="655.00" font-size="5.0" text-anchor="middle" fill="#1a1a1a">*</text>
<text x="416.40" y="671.20" font-size="5.7" text-anchor="middle" fill="#1a1a1a">Vehicle</text>
<text x="439.00" y="671.20" font-size="5.7" text-anchor="middle" fill="#1a1a1a">Onco</text>
<text x="441.50" y="677.30" font-size="5.7" text-anchor="middle" fill="#1a1a1a">Vex<tspan font-size="3.88" dy="-2.28">mGM-CSF</tspan></text>
<text x="464.80" y="671.20" font-size="5.7" text-anchor="middle" fill="#1a1a1a">CTLA-4</text>
<text x="490.20" y="671.20" font-size="5.7" text-anchor="middle" fill="#1a1a1a">Combo</text>
<rect x="404.00" y="683.80" width="7.60" height="4.60" fill="#1a1a1a"/>
<rect x="404.40" y="691.60" width="7.00" height="4.10" fill="#fff" stroke="#1a1a1a" stroke-width="0.7"/>
<text x="413.80" y="688.20" font-size="5.9" text-anchor="start" fill="#1a1a1a">%CD8 AH1<tspan font-size="4.0" dy="-2.3">+</tspan></text>
<text x="413.80" y="695.80" font-size="5.9" text-anchor="start" fill="#1a1a1a">% CD4 FoxP3<tspan font-size="4.0" dy="-2.3">+</tspan><tspan dy="2.3">/CD25</tspan><tspan font-size="4.0" dy="-2.3">+</tspan></text>
</svg></body></html>
